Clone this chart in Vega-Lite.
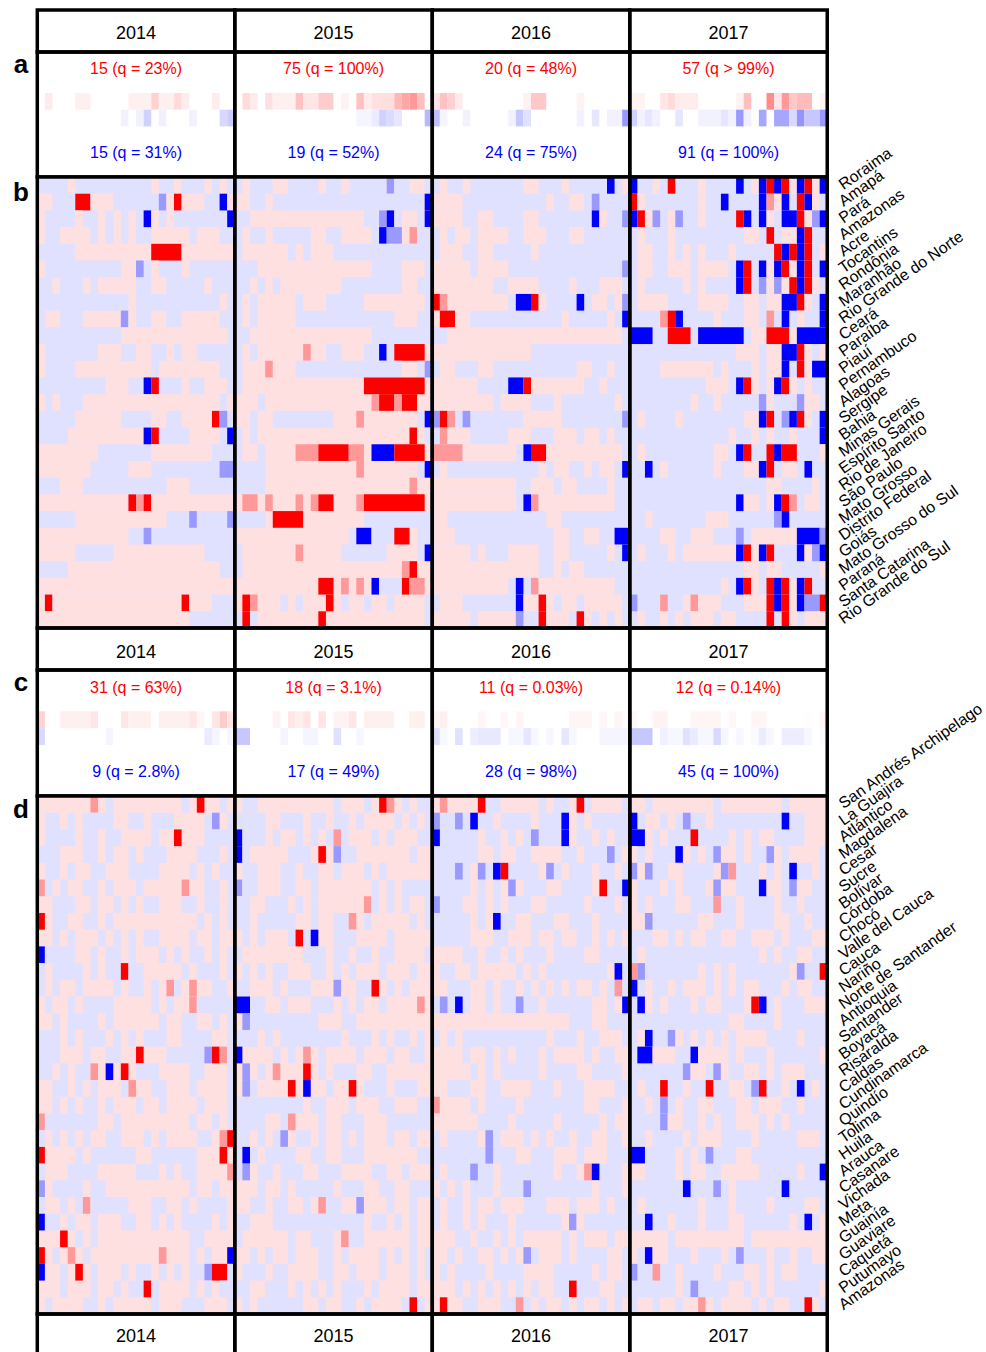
{"$schema":"https://vega.github.io/schema/vega-lite/v6.json","padding":{"left":0,"top":8,"right":0,"bottom":0},"spacing":0,"bounds":"flush","config":{"view":{"stroke":null},"font":"Liberation Sans","text":{"font":"Liberation Sans"}},
"datasets":{"frame":[{"x":0,"e":26,"t":"2014","c":13},{"x":26,"e":52,"t":"2015","c":39},{"x":52,"e":78,"t":"2016","c":65},{"x":78,"e":104,"t":"2017","c":91}],
"brazil":[{"r":0,"n":"Roraima"},{"r":1,"n":"Amapá"},{"r":2,"n":"Pará"},{"r":3,"n":"Amazonas"},{"r":4,"n":"Acre"},{"r":5,"n":"Tocantins"},{"r":6,"n":"Rondônia"},{"r":7,"n":"Maranhão"},{"r":8,"n":"Rio Grande do Norte"},{"r":9,"n":"Ceará"},{"r":10,"n":"Paraíba"},{"r":11,"n":"Piauí"},{"r":12,"n":"Pernambuco"},{"r":13,"n":"Alagoas"},{"r":14,"n":"Sergipe"},{"r":15,"n":"Bahia"},{"r":16,"n":"Minas Gerais"},{"r":17,"n":"Espírito Santo"},{"r":18,"n":"Rio de Janeiro"},{"r":19,"n":"São Paulo"},{"r":20,"n":"Mato Grosso"},{"r":21,"n":"Distrito Federal"},{"r":22,"n":"Goiás"},{"r":23,"n":"Mato Grosso do Sul"},{"r":24,"n":"Paraná"},{"r":25,"n":"Santa Catarina"},{"r":26,"n":"Rio Grande do Sul"}],
"colombia":[{"r":0,"n":"San Andrés Archipelago"},{"r":1,"n":"La Guajira"},{"r":2,"n":"Atlántico"},{"r":3,"n":"Magdalena"},{"r":4,"n":"Cesar"},{"r":5,"n":"Sucre"},{"r":6,"n":"Bolívar"},{"r":7,"n":"Córdoba"},{"r":8,"n":"Chocó"},{"r":9,"n":"Valle del Cauca"},{"r":10,"n":"Cauca"},{"r":11,"n":"Nariño"},{"r":12,"n":"Norte de Santander"},{"r":13,"n":"Antioquia"},{"r":14,"n":"Santander"},{"r":15,"n":"Boyacá"},{"r":16,"n":"Risaralda"},{"r":17,"n":"Caldas"},{"r":18,"n":"Cundinamarca"},{"r":19,"n":"Quindío"},{"r":20,"n":"Tolima"},{"r":21,"n":"Huila"},{"r":22,"n":"Arauca"},{"r":23,"n":"Casanare"},{"r":24,"n":"Vichada"},{"r":25,"n":"Meta"},{"r":26,"n":"Guainía"},{"r":27,"n":"Guaviare"},{"r":28,"n":"Caquetá"},{"r":29,"n":"Putumayo"},{"r":30,"n":"Amazonas"}],
"statsA":[{"r":0,"c":13,"t":"15 (q = 23%)","k":"#ff0000"},{"r":0,"c":39,"t":"75 (q = 100%)","k":"#ff0000"},{"r":0,"c":65,"t":"20 (q = 48%)","k":"#ff0000"},{"r":0,"c":91,"t":"57 (q > 99%)","k":"#ff0000"},{"r":5,"c":13,"t":"15 (q = 31%)","k":"#0000ff"},{"r":5,"c":39,"t":"19 (q = 52%)","k":"#0000ff"},{"r":5,"c":65,"t":"24 (q = 75%)","k":"#0000ff"},{"r":5,"c":91,"t":"91 (q = 100%)","k":"#0000ff"}],
"statsC":[{"r":0,"c":13,"t":"31 (q = 63%)","k":"#ff0000"},{"r":0,"c":39,"t":"18 (q = 3.1%)","k":"#ff0000"},{"r":0,"c":65,"t":"11 (q = 0.03%)","k":"#ff0000"},{"r":0,"c":91,"t":"12 (q = 0.14%)","k":"#ff0000"},{"r":5,"c":13,"t":"9 (q = 2.8%)","k":"#0000ff"},{"r":5,"c":39,"t":"17 (q = 49%)","k":"#0000ff"},{"r":5,"c":65,"t":"28 (q = 98%)","k":"#0000ff"},{"r":5,"c":91,"t":"45 (q = 100%)","k":"#0000ff"}],
"baseB":[{"x":0,"e":26,"v":-12},{"x":26,"e":52,"v":12},{"x":52,"e":78,"v":-12},{"x":78,"e":104,"v":-12}],
"baseD":[{"x":0,"e":26,"v":12},{"x":26,"e":52,"v":12},{"x":52,"e":78,"v":-12},{"x":78,"e":104,"v":-12}],
"panelA":[{"r":2,"x":1,"e":2,"v":8},{"r":2,"x":5,"e":7,"v":6},{"r":2,"x":12,"e":15,"v":6},{"r":2,"x":15,"e":16,"v":18},{"r":2,"x":16,"e":18,"v":6},{"r":2,"x":18,"e":19,"v":14},{"r":2,"x":19,"e":20,"v":7},{"r":2,"x":23,"e":24,"v":7},{"r":3,"x":11,"e":12,"v":-5},{"r":3,"x":13,"e":14,"v":-5},{"r":3,"x":14,"e":15,"v":-18},{"r":3,"x":16,"e":17,"v":-6},{"r":3,"x":20,"e":21,"v":-5},{"r":3,"x":24,"e":25,"v":-15},{"r":3,"x":25,"e":26,"v":-20},
{"r":2,"x":27,"e":28,"v":14},{"r":2,"x":28,"e":29,"v":8},{"r":2,"x":30,"e":31,"v":12},{"r":2,"x":31,"e":34,"v":6},{"r":2,"x":34,"e":35,"v":24},{"r":2,"x":35,"e":37,"v":10},{"r":2,"x":37,"e":39,"v":20},{"r":2,"x":40,"e":41,"v":5},{"r":2,"x":42,"e":43,"v":24},{"r":2,"x":43,"e":44,"v":8},{"r":2,"x":44,"e":45,"v":12},{"r":2,"x":45,"e":47,"v":13},{"r":2,"x":47,"e":48,"v":28},{"r":2,"x":48,"e":49,"v":35},{"r":2,"x":49,"e":50,"v":40},{"r":2,"x":50,"e":51,"v":25},{"r":3,"x":42,"e":44,"v":-4},{"r":3,"x":44,"e":45,"v":-8},{"r":3,"x":45,"e":46,"v":-18},{"r":3,"x":46,"e":47,"v":-14},{"r":3,"x":47,"e":48,"v":-10},{"r":3,"x":51,"e":52,"v":-28},
{"r":2,"x":52,"e":53,"v":10},{"r":2,"x":53,"e":54,"v":24},{"r":2,"x":54,"e":55,"v":18},{"r":2,"x":55,"e":56,"v":8},{"r":2,"x":64,"e":65,"v":5},{"r":2,"x":65,"e":67,"v":22},{"r":2,"x":71,"e":72,"v":5},{"r":3,"x":52,"e":53,"v":-25},{"r":3,"x":53,"e":54,"v":-4},{"r":3,"x":56,"e":57,"v":-5},{"r":3,"x":62,"e":63,"v":-5},{"r":3,"x":63,"e":64,"v":-22},{"r":3,"x":64,"e":65,"v":-12},{"r":3,"x":71,"e":72,"v":-5},{"r":3,"x":73,"e":74,"v":-10},{"r":3,"x":75,"e":77,"v":-5},{"r":3,"x":77,"e":78,"v":-40},
{"r":2,"x":78,"e":80,"v":5},{"r":2,"x":82,"e":83,"v":10},{"r":2,"x":83,"e":84,"v":14},{"r":2,"x":84,"e":87,"v":7},{"r":2,"x":92,"e":93,"v":5},{"r":2,"x":93,"e":94,"v":25},{"r":2,"x":96,"e":97,"v":45},{"r":2,"x":97,"e":98,"v":10},{"r":2,"x":98,"e":99,"v":40},{"r":2,"x":99,"e":100,"v":22},{"r":2,"x":100,"e":102,"v":27},{"r":2,"x":103,"e":104,"v":5},{"r":3,"x":78,"e":79,"v":-18},{"r":3,"x":79,"e":80,"v":-5},{"r":3,"x":80,"e":81,"v":-10},{"r":3,"x":81,"e":82,"v":-5},{"r":3,"x":84,"e":85,"v":-10},{"r":3,"x":87,"e":90,"v":-5},{"r":3,"x":90,"e":91,"v":-10},{"r":3,"x":91,"e":92,"v":-5},{"r":3,"x":92,"e":93,"v":-40},{"r":3,"x":93,"e":94,"v":-6},{"r":3,"x":95,"e":96,"v":-35},{"r":3,"x":97,"e":99,"v":-35},{"r":3,"x":99,"e":100,"v":-15},{"r":3,"x":100,"e":101,"v":-42},{"r":3,"x":101,"e":103,"v":-22},{"r":3,"x":103,"e":104,"v":-40}],
"panelC":[{"r":2,"x":0,"e":1,"v":18},{"r":2,"x":3,"e":7,"v":6},{"r":2,"x":7,"e":8,"v":10},{"r":2,"x":11,"e":12,"v":10},{"r":2,"x":12,"e":15,"v":6},{"r":2,"x":16,"e":20,"v":6},{"r":2,"x":20,"e":21,"v":10},{"r":2,"x":21,"e":22,"v":3},{"r":2,"x":23,"e":24,"v":10},{"r":2,"x":24,"e":25,"v":20},{"r":2,"x":25,"e":26,"v":10},{"r":3,"x":0,"e":1,"v":-15},{"r":3,"x":9,"e":10,"v":-4},{"r":3,"x":22,"e":23,"v":-8},{"r":3,"x":23,"e":24,"v":-4},{"r":3,"x":25,"e":26,"v":-3},
{"r":2,"x":31,"e":32,"v":5},{"r":2,"x":33,"e":34,"v":10},{"r":2,"x":34,"e":35,"v":6},{"r":2,"x":35,"e":36,"v":10},{"r":2,"x":37,"e":38,"v":10},{"r":2,"x":39,"e":41,"v":5},{"r":2,"x":41,"e":42,"v":10},{"r":2,"x":43,"e":47,"v":6},{"r":2,"x":49,"e":51,"v":6},{"r":3,"x":26,"e":28,"v":-22},{"r":3,"x":32,"e":33,"v":-4},{"r":3,"x":35,"e":37,"v":-4},{"r":3,"x":39,"e":40,"v":-12},{"r":3,"x":42,"e":43,"v":-3},
{"r":2,"x":52,"e":53,"v":4},{"r":2,"x":53,"e":54,"v":6},{"r":2,"x":58,"e":59,"v":4},{"r":2,"x":61,"e":62,"v":3},{"r":2,"x":63,"e":64,"v":4},{"r":2,"x":70,"e":73,"v":4},{"r":2,"x":74,"e":75,"v":3},{"r":2,"x":76,"e":77,"v":4},{"r":2,"x":77,"e":78,"v":1},{"r":3,"x":52,"e":53,"v":-12},{"r":3,"x":53,"e":54,"v":-3},{"r":3,"x":55,"e":56,"v":-12},{"r":3,"x":57,"e":58,"v":-7},{"r":3,"x":58,"e":61,"v":-9},{"r":3,"x":62,"e":64,"v":-3},{"r":3,"x":64,"e":65,"v":-10},{"r":3,"x":65,"e":66,"v":-3},{"r":3,"x":67,"e":68,"v":-3},{"r":3,"x":69,"e":70,"v":-10},{"r":3,"x":70,"e":71,"v":-3},{"r":3,"x":74,"e":78,"v":-4},
{"r":2,"x":78,"e":79,"v":3},{"r":2,"x":81,"e":83,"v":5},{"r":2,"x":86,"e":90,"v":4},{"r":2,"x":91,"e":92,"v":3},{"r":2,"x":94,"e":96,"v":4},{"r":2,"x":101,"e":102,"v":1},{"r":2,"x":103,"e":104,"v":3},{"r":3,"x":78,"e":81,"v":-22},{"r":3,"x":82,"e":83,"v":-6},{"r":3,"x":83,"e":85,"v":-3},{"r":3,"x":85,"e":86,"v":-12},{"r":3,"x":86,"e":87,"v":-8},{"r":3,"x":87,"e":89,"v":-3},{"r":3,"x":89,"e":90,"v":-15},{"r":3,"x":90,"e":91,"v":-3},{"r":3,"x":92,"e":93,"v":-3},{"r":3,"x":94,"e":95,"v":-2},{"r":3,"x":95,"e":96,"v":-8},{"r":3,"x":96,"e":97,"v":-3},{"r":3,"x":98,"e":101,"v":-7},{"r":3,"x":101,"e":102,"v":-3},{"r":3,"x":103,"e":104,"v":-2}],
"panelB":[
{"r":0,"x":4,"e":5,"v":12},{"r":0,"x":15,"e":16,"v":12},{"r":0,"x":18,"e":19,"v":12},{"r":0,"x":22,"e":23,"v":12},{"r":0,"x":24,"e":25,"v":12},
{"r":1,"x":0,"e":2,"v":12},{"r":1,"x":5,"e":7,"v":100},{"r":1,"x":7,"e":10,"v":12},{"r":1,"x":16,"e":17,"v":-40},{"r":1,"x":17,"e":18,"v":12},{"r":1,"x":18,"e":19,"v":100},{"r":1,"x":19,"e":22,"v":12},{"r":1,"x":24,"e":25,"v":-100},{"r":1,"x":25,"e":26,"v":12},
{"r":2,"x":0,"e":1,"v":12},{"r":2,"x":5,"e":6,"v":12},{"r":2,"x":8,"e":9,"v":12},{"r":2,"x":10,"e":11,"v":12},{"r":2,"x":12,"e":13,"v":12},{"r":2,"x":14,"e":15,"v":-100},{"r":2,"x":15,"e":16,"v":12},{"r":2,"x":17,"e":18,"v":12},{"r":2,"x":25,"e":26,"v":-100},
{"r":3,"x":0,"e":1,"v":12},{"r":3,"x":3,"e":7,"v":12},{"r":3,"x":8,"e":9,"v":12},{"r":3,"x":10,"e":11,"v":12},{"r":3,"x":12,"e":13,"v":12},{"r":3,"x":15,"e":20,"v":12},{"r":3,"x":21,"e":24,"v":12},
{"r":4,"x":5,"e":15,"v":12},{"r":4,"x":15,"e":19,"v":100},{"r":4,"x":19,"e":26,"v":12},
{"r":5,"x":0,"e":1,"v":12},{"r":5,"x":11,"e":12,"v":12},{"r":5,"x":12,"e":13,"v":12},{"r":5,"x":13,"e":14,"v":-40},{"r":5,"x":15,"e":16,"v":12},{"r":5,"x":19,"e":20,"v":12},
{"r":6,"x":2,"e":3,"v":12},{"r":6,"x":6,"e":7,"v":12},{"r":6,"x":8,"e":13,"v":12},{"r":6,"x":15,"e":17,"v":12},{"r":6,"x":22,"e":23,"v":12},
{"r":7,"x":12,"e":13,"v":12},{"r":7,"x":24,"e":25,"v":12},
{"r":8,"x":1,"e":3,"v":12},{"r":8,"x":6,"e":11,"v":12},{"r":8,"x":11,"e":12,"v":-40},{"r":8,"x":12,"e":13,"v":12},{"r":8,"x":15,"e":17,"v":12},{"r":8,"x":19,"e":24,"v":12},
{"r":9,"x":11,"e":25,"v":12},
{"r":10,"x":0,"e":1,"v":12},{"r":10,"x":8,"e":11,"v":12},{"r":10,"x":13,"e":15,"v":12},{"r":10,"x":17,"e":18,"v":12},{"r":10,"x":19,"e":21,"v":12},
{"r":11,"x":0,"e":1,"v":12},{"r":11,"x":5,"e":15,"v":12},{"r":11,"x":16,"e":24,"v":12},
{"r":12,"x":9,"e":12,"v":12},{"r":12,"x":14,"e":15,"v":-100},{"r":12,"x":15,"e":16,"v":100},{"r":12,"x":19,"e":20,"v":12},{"r":12,"x":22,"e":25,"v":12},
{"r":13,"x":0,"e":1,"v":12},{"r":13,"x":2,"e":3,"v":12},{"r":13,"x":6,"e":24,"v":12},{"r":13,"x":25,"e":26,"v":12},
{"r":14,"x":5,"e":11,"v":12},{"r":14,"x":15,"e":17,"v":12},{"r":14,"x":19,"e":23,"v":12},{"r":14,"x":23,"e":24,"v":100},{"r":14,"x":24,"e":25,"v":-40},
{"r":15,"x":4,"e":14,"v":12},{"r":15,"x":14,"e":15,"v":-100},{"r":15,"x":15,"e":16,"v":100},{"r":15,"x":20,"e":24,"v":12},{"r":15,"x":25,"e":26,"v":-100},
{"r":16,"x":0,"e":8,"v":12},{"r":16,"x":15,"e":23,"v":12},
{"r":17,"x":0,"e":7,"v":12},{"r":17,"x":12,"e":15,"v":12},{"r":17,"x":24,"e":26,"v":-40},
{"r":18,"x":3,"e":6,"v":12},{"r":18,"x":17,"e":20,"v":12},
{"r":19,"x":0,"e":12,"v":12},{"r":19,"x":12,"e":13,"v":100},{"r":19,"x":13,"e":14,"v":40},{"r":19,"x":14,"e":15,"v":100},{"r":19,"x":15,"e":26,"v":12},
{"r":20,"x":5,"e":17,"v":12},{"r":20,"x":20,"e":21,"v":-40},{"r":20,"x":25,"e":26,"v":-40},
{"r":21,"x":0,"e":12,"v":12},{"r":21,"x":14,"e":15,"v":-40},
{"r":22,"x":0,"e":5,"v":12},{"r":22,"x":10,"e":22,"v":12},
{"r":23,"x":4,"e":24,"v":12},
{"r":24,"x":0,"e":26,"v":12},
{"r":25,"x":0,"e":1,"v":12},{"r":25,"x":1,"e":2,"v":100},{"r":25,"x":2,"e":19,"v":12},{"r":25,"x":19,"e":20,"v":100},{"r":25,"x":20,"e":23,"v":12},
{"r":26,"x":0,"e":20,"v":12},

{"r":0,"x":26,"e":27,"v":-12},{"r":0,"x":28,"e":31,"v":-12},{"r":0,"x":33,"e":37,"v":-12},{"r":0,"x":38,"e":40,"v":-12},{"r":0,"x":41,"e":46,"v":-12},{"r":0,"x":46,"e":47,"v":-40},{"r":0,"x":47,"e":49,"v":-12},{"r":0,"x":51,"e":52,"v":-12},
{"r":1,"x":28,"e":30,"v":-12},{"r":1,"x":31,"e":51,"v":-12},{"r":1,"x":51,"e":52,"v":-100},
{"r":2,"x":26,"e":28,"v":-12},{"r":2,"x":43,"e":45,"v":-12},{"r":2,"x":45,"e":46,"v":-40},{"r":2,"x":46,"e":47,"v":-100},{"r":2,"x":47,"e":48,"v":-12},{"r":2,"x":50,"e":51,"v":-12},{"r":2,"x":51,"e":52,"v":-100},
{"r":3,"x":26,"e":27,"v":-12},{"r":3,"x":28,"e":30,"v":-12},{"r":3,"x":31,"e":36,"v":-12},{"r":3,"x":38,"e":40,"v":-12},{"r":3,"x":44,"e":45,"v":-12},{"r":3,"x":45,"e":46,"v":-100},{"r":3,"x":46,"e":48,"v":-40},{"r":3,"x":49,"e":50,"v":40},{"r":3,"x":50,"e":52,"v":-12},
{"r":4,"x":26,"e":27,"v":-12},{"r":4,"x":33,"e":34,"v":-12},{"r":4,"x":35,"e":36,"v":-12},{"r":4,"x":39,"e":52,"v":-12},
{"r":5,"x":26,"e":29,"v":-12},{"r":5,"x":44,"e":48,"v":-12},{"r":5,"x":51,"e":52,"v":-12},
{"r":6,"x":26,"e":28,"v":-12},{"r":6,"x":29,"e":30,"v":-12},{"r":6,"x":31,"e":32,"v":-12},{"r":6,"x":40,"e":48,"v":-12},{"r":6,"x":50,"e":52,"v":-12},
{"r":7,"x":26,"e":27,"v":-12},{"r":7,"x":28,"e":29,"v":-12},{"r":7,"x":34,"e":35,"v":-12},{"r":7,"x":38,"e":43,"v":-12},{"r":7,"x":51,"e":52,"v":-12},
{"r":8,"x":26,"e":27,"v":-12},{"r":8,"x":28,"e":29,"v":-12},{"r":8,"x":34,"e":47,"v":-12},{"r":8,"x":50,"e":52,"v":-12},
{"r":9,"x":26,"e":28,"v":-12},{"r":9,"x":44,"e":52,"v":-12},
{"r":10,"x":26,"e":27,"v":-12},{"r":10,"x":28,"e":29,"v":-12},{"r":10,"x":35,"e":36,"v":40},{"r":10,"x":38,"e":40,"v":-12},{"r":10,"x":43,"e":45,"v":-12},{"r":10,"x":45,"e":46,"v":-100},{"r":10,"x":46,"e":47,"v":-12},{"r":10,"x":47,"e":51,"v":100},
{"r":11,"x":26,"e":27,"v":-12},{"r":11,"x":30,"e":31,"v":40},{"r":11,"x":34,"e":48,"v":-12},{"r":11,"x":50,"e":51,"v":-12},{"r":11,"x":51,"e":52,"v":-40},
{"r":12,"x":26,"e":27,"v":-12},{"r":12,"x":43,"e":51,"v":100},
{"r":13,"x":29,"e":30,"v":-12},{"r":13,"x":44,"e":45,"v":40},{"r":13,"x":45,"e":47,"v":100},{"r":13,"x":47,"e":48,"v":40},{"r":13,"x":48,"e":50,"v":100},
{"r":14,"x":28,"e":29,"v":-12},{"r":14,"x":31,"e":39,"v":-12},{"r":14,"x":42,"e":43,"v":40},{"r":14,"x":50,"e":51,"v":-12},{"r":14,"x":51,"e":52,"v":-100},
{"r":15,"x":26,"e":27,"v":-12},{"r":15,"x":28,"e":29,"v":-12},{"r":15,"x":49,"e":50,"v":100},{"r":15,"x":51,"e":52,"v":-12},
{"r":16,"x":26,"e":27,"v":-12},{"r":16,"x":29,"e":30,"v":-12},{"r":16,"x":34,"e":37,"v":40},{"r":16,"x":37,"e":41,"v":100},{"r":16,"x":41,"e":43,"v":40},{"r":16,"x":44,"e":47,"v":-100},{"r":16,"x":47,"e":51,"v":100},
{"r":17,"x":26,"e":30,"v":-12},{"r":17,"x":42,"e":43,"v":40},{"r":17,"x":50,"e":51,"v":-12},{"r":17,"x":51,"e":52,"v":-100},
{"r":18,"x":26,"e":30,"v":-12},{"r":18,"x":49,"e":50,"v":40},
{"r":19,"x":27,"e":29,"v":40},{"r":19,"x":30,"e":31,"v":40},{"r":19,"x":34,"e":35,"v":40},{"r":19,"x":36,"e":37,"v":40},{"r":19,"x":37,"e":39,"v":100},{"r":19,"x":42,"e":43,"v":40},{"r":19,"x":43,"e":51,"v":100},
{"r":20,"x":26,"e":30,"v":-12},{"r":20,"x":31,"e":35,"v":100},{"r":20,"x":43,"e":52,"v":-12},
{"r":21,"x":41,"e":42,"v":-12},{"r":21,"x":42,"e":44,"v":-100},{"r":21,"x":44,"e":47,"v":-12},{"r":21,"x":47,"e":49,"v":100},{"r":21,"x":50,"e":52,"v":-12},
{"r":22,"x":26,"e":27,"v":-12},{"r":22,"x":34,"e":35,"v":40},{"r":22,"x":40,"e":46,"v":-12},{"r":22,"x":50,"e":51,"v":-12},{"r":22,"x":51,"e":52,"v":-100},
{"r":23,"x":26,"e":27,"v":-12},{"r":23,"x":48,"e":49,"v":40},{"r":23,"x":49,"e":50,"v":100},
{"r":24,"x":37,"e":39,"v":100},{"r":24,"x":40,"e":41,"v":40},{"r":24,"x":42,"e":43,"v":40},{"r":24,"x":44,"e":45,"v":-100},{"r":24,"x":45,"e":48,"v":-12},{"r":24,"x":48,"e":49,"v":100},{"r":24,"x":49,"e":51,"v":40},
{"r":25,"x":27,"e":28,"v":100},{"r":25,"x":28,"e":29,"v":40},{"r":25,"x":32,"e":33,"v":-12},{"r":25,"x":34,"e":35,"v":-12},{"r":25,"x":38,"e":39,"v":100},{"r":25,"x":40,"e":41,"v":-12},{"r":25,"x":43,"e":44,"v":-12},{"r":25,"x":46,"e":47,"v":-12},{"r":25,"x":51,"e":52,"v":-12},
{"r":26,"x":26,"e":27,"v":-12},{"r":26,"x":27,"e":28,"v":100},{"r":26,"x":28,"e":29,"v":-12},{"r":26,"x":37,"e":38,"v":100},{"r":26,"x":51,"e":52,"v":-12},

{"r":0,"x":53,"e":54,"v":12},{"r":0,"x":56,"e":57,"v":12},{"r":0,"x":64,"e":66,"v":12},{"r":0,"x":69,"e":70,"v":12},{"r":0,"x":75,"e":76,"v":-100},{"r":0,"x":77,"e":78,"v":12},
{"r":1,"x":52,"e":56,"v":12},{"r":1,"x":67,"e":68,"v":12},{"r":1,"x":70,"e":72,"v":12},{"r":1,"x":73,"e":74,"v":-40},
{"r":2,"x":52,"e":56,"v":12},{"r":2,"x":58,"e":60,"v":12},{"r":2,"x":64,"e":66,"v":12},{"r":2,"x":73,"e":74,"v":-100},{"r":2,"x":74,"e":75,"v":12},{"r":2,"x":77,"e":78,"v":-40},
{"r":3,"x":53,"e":54,"v":12},{"r":3,"x":55,"e":57,"v":12},{"r":3,"x":58,"e":62,"v":12},{"r":3,"x":64,"e":67,"v":12},{"r":3,"x":70,"e":72,"v":12},
{"r":4,"x":53,"e":56,"v":12},{"r":4,"x":58,"e":60,"v":12},{"r":4,"x":65,"e":66,"v":12},
{"r":5,"x":52,"e":57,"v":12},{"r":5,"x":58,"e":62,"v":12},{"r":5,"x":77,"e":78,"v":-40},
{"r":6,"x":52,"e":60,"v":12},{"r":6,"x":62,"e":66,"v":12},{"r":6,"x":70,"e":71,"v":12},{"r":6,"x":74,"e":77,"v":12},
{"r":7,"x":52,"e":53,"v":100},{"r":7,"x":53,"e":54,"v":40},{"r":7,"x":54,"e":62,"v":12},{"r":7,"x":63,"e":65,"v":-100},{"r":7,"x":65,"e":66,"v":100},{"r":7,"x":66,"e":67,"v":12},{"r":7,"x":71,"e":72,"v":-100},{"r":7,"x":73,"e":75,"v":12},{"r":7,"x":76,"e":77,"v":12},{"r":7,"x":77,"e":78,"v":-40},
{"r":8,"x":52,"e":53,"v":12},{"r":8,"x":53,"e":55,"v":100},{"r":8,"x":55,"e":57,"v":12},{"r":8,"x":69,"e":70,"v":12},{"r":8,"x":75,"e":76,"v":12},{"r":8,"x":77,"e":78,"v":-100},
{"r":9,"x":54,"e":77,"v":12},
{"r":10,"x":52,"e":65,"v":12},
{"r":11,"x":53,"e":55,"v":12},{"r":11,"x":58,"e":60,"v":12},{"r":11,"x":71,"e":73,"v":12},{"r":11,"x":75,"e":76,"v":12},
{"r":12,"x":52,"e":58,"v":12},{"r":12,"x":62,"e":64,"v":-100},{"r":12,"x":64,"e":65,"v":100},{"r":12,"x":65,"e":72,"v":12},{"r":12,"x":74,"e":75,"v":12},
{"r":13,"x":52,"e":60,"v":12},{"r":13,"x":61,"e":65,"v":12},{"r":13,"x":68,"e":69,"v":12},{"r":13,"x":76,"e":77,"v":12},
{"r":14,"x":52,"e":53,"v":-40},{"r":14,"x":53,"e":54,"v":100},{"r":14,"x":54,"e":55,"v":40},{"r":14,"x":56,"e":57,"v":-40},{"r":14,"x":64,"e":69,"v":12},{"r":14,"x":77,"e":78,"v":-40},
{"r":15,"x":53,"e":54,"v":40},{"r":15,"x":54,"e":57,"v":12},{"r":15,"x":62,"e":65,"v":12},{"r":15,"x":68,"e":71,"v":12},{"r":15,"x":72,"e":74,"v":12},{"r":15,"x":75,"e":76,"v":12},
{"r":16,"x":52,"e":56,"v":40},{"r":16,"x":56,"e":63,"v":12},{"r":16,"x":64,"e":65,"v":-100},{"r":16,"x":65,"e":67,"v":100},{"r":16,"x":67,"e":77,"v":12},
{"r":17,"x":53,"e":54,"v":12},{"r":17,"x":66,"e":67,"v":12},{"r":17,"x":68,"e":70,"v":12},{"r":17,"x":72,"e":73,"v":12},{"r":17,"x":74,"e":76,"v":12},{"r":17,"x":77,"e":78,"v":-100},
{"r":18,"x":52,"e":63,"v":12},{"r":18,"x":65,"e":68,"v":12},{"r":18,"x":69,"e":71,"v":12},{"r":18,"x":75,"e":76,"v":12},
{"r":19,"x":52,"e":63,"v":12},{"r":19,"x":64,"e":65,"v":-100},{"r":19,"x":65,"e":66,"v":40},{"r":19,"x":66,"e":76,"v":12},
{"r":20,"x":52,"e":54,"v":12},{"r":20,"x":67,"e":69,"v":12},
{"r":21,"x":52,"e":55,"v":12},{"r":21,"x":68,"e":70,"v":12},{"r":21,"x":72,"e":74,"v":12},{"r":21,"x":76,"e":78,"v":-100},
{"r":22,"x":52,"e":57,"v":12},{"r":22,"x":58,"e":59,"v":12},{"r":22,"x":62,"e":66,"v":12},{"r":22,"x":68,"e":70,"v":12},{"r":22,"x":75,"e":76,"v":12},{"r":22,"x":77,"e":78,"v":-100},
{"r":23,"x":52,"e":66,"v":12},{"r":23,"x":68,"e":69,"v":12},{"r":23,"x":70,"e":72,"v":12},
{"r":24,"x":52,"e":62,"v":12},{"r":24,"x":63,"e":64,"v":-100},{"r":24,"x":65,"e":66,"v":40},{"r":24,"x":66,"e":76,"v":12},
{"r":25,"x":53,"e":56,"v":12},{"r":25,"x":63,"e":64,"v":-100},{"r":25,"x":64,"e":66,"v":12},{"r":25,"x":66,"e":67,"v":100},{"r":25,"x":67,"e":68,"v":12},{"r":25,"x":69,"e":71,"v":12},{"r":25,"x":72,"e":77,"v":12},
{"r":26,"x":52,"e":57,"v":12},{"r":26,"x":58,"e":63,"v":12},{"r":26,"x":63,"e":64,"v":-40},{"r":26,"x":66,"e":67,"v":100},{"r":26,"x":67,"e":70,"v":12},{"r":26,"x":71,"e":72,"v":100},{"r":26,"x":72,"e":73,"v":12},{"r":26,"x":74,"e":75,"v":12},{"r":26,"x":76,"e":77,"v":12},

{"r":0,"x":78,"e":79,"v":-100},{"r":0,"x":81,"e":82,"v":12},{"r":0,"x":83,"e":84,"v":100},{"r":0,"x":87,"e":88,"v":12},{"r":0,"x":92,"e":93,"v":-100},{"r":0,"x":94,"e":95,"v":12},{"r":0,"x":95,"e":96,"v":-100},{"r":0,"x":96,"e":97,"v":100},{"r":0,"x":97,"e":98,"v":-100},{"r":0,"x":98,"e":99,"v":100},{"r":0,"x":99,"e":100,"v":12},{"r":0,"x":100,"e":101,"v":-100},{"r":0,"x":101,"e":102,"v":100},{"r":0,"x":102,"e":103,"v":12},{"r":0,"x":103,"e":104,"v":-100},
{"r":1,"x":78,"e":79,"v":100},{"r":1,"x":79,"e":80,"v":12},{"r":1,"x":87,"e":88,"v":12},{"r":1,"x":90,"e":91,"v":-100},{"r":1,"x":95,"e":96,"v":-100},{"r":1,"x":96,"e":97,"v":40},{"r":1,"x":97,"e":98,"v":12},{"r":1,"x":98,"e":99,"v":-100},{"r":1,"x":100,"e":101,"v":100},{"r":1,"x":101,"e":102,"v":-100},{"r":1,"x":102,"e":103,"v":12},
{"r":2,"x":78,"e":79,"v":-100},{"r":2,"x":79,"e":80,"v":100},{"r":2,"x":80,"e":81,"v":12},{"r":2,"x":81,"e":82,"v":-40},{"r":2,"x":83,"e":84,"v":12},{"r":2,"x":84,"e":85,"v":-40},{"r":2,"x":87,"e":88,"v":12},{"r":2,"x":92,"e":93,"v":100},{"r":2,"x":93,"e":94,"v":-100},{"r":2,"x":95,"e":96,"v":-100},{"r":2,"x":96,"e":97,"v":12},{"r":2,"x":98,"e":100,"v":-100},{"r":2,"x":100,"e":101,"v":100},{"r":2,"x":101,"e":102,"v":12},{"r":2,"x":102,"e":103,"v":-40},{"r":2,"x":103,"e":104,"v":-100},
{"r":3,"x":79,"e":80,"v":12},{"r":3,"x":83,"e":84,"v":12},{"r":3,"x":93,"e":95,"v":12},{"r":3,"x":96,"e":97,"v":100},{"r":3,"x":98,"e":100,"v":12},{"r":3,"x":100,"e":101,"v":-100},{"r":3,"x":101,"e":102,"v":100},
{"r":4,"x":79,"e":81,"v":12},{"r":4,"x":83,"e":84,"v":12},{"r":4,"x":85,"e":86,"v":12},{"r":4,"x":87,"e":88,"v":12},{"r":4,"x":91,"e":92,"v":12},{"r":4,"x":97,"e":98,"v":100},{"r":4,"x":98,"e":99,"v":-100},{"r":4,"x":99,"e":100,"v":100},{"r":4,"x":100,"e":101,"v":-100},{"r":4,"x":101,"e":102,"v":100},{"r":4,"x":103,"e":104,"v":12},
{"r":5,"x":79,"e":81,"v":12},{"r":5,"x":83,"e":86,"v":12},{"r":5,"x":87,"e":91,"v":12},{"r":5,"x":92,"e":93,"v":-100},{"r":5,"x":93,"e":94,"v":100},{"r":5,"x":95,"e":96,"v":-100},{"r":5,"x":96,"e":97,"v":12},{"r":5,"x":97,"e":98,"v":-100},{"r":5,"x":98,"e":99,"v":100},{"r":5,"x":99,"e":100,"v":12},{"r":5,"x":100,"e":101,"v":-100},{"r":5,"x":101,"e":102,"v":100},{"r":5,"x":103,"e":104,"v":-100},
{"r":6,"x":79,"e":80,"v":12},{"r":6,"x":85,"e":86,"v":12},{"r":6,"x":87,"e":88,"v":12},{"r":6,"x":92,"e":93,"v":-100},{"r":6,"x":93,"e":94,"v":100},{"r":6,"x":95,"e":96,"v":-40},{"r":6,"x":96,"e":97,"v":12},{"r":6,"x":97,"e":98,"v":-40},{"r":6,"x":98,"e":99,"v":12},{"r":6,"x":99,"e":100,"v":100},{"r":6,"x":100,"e":101,"v":-100},{"r":6,"x":101,"e":102,"v":100},{"r":6,"x":102,"e":103,"v":12},
{"r":7,"x":79,"e":83,"v":12},{"r":7,"x":87,"e":91,"v":12},{"r":7,"x":93,"e":95,"v":12},{"r":7,"x":96,"e":98,"v":12},{"r":7,"x":98,"e":100,"v":-100},{"r":7,"x":100,"e":101,"v":100},{"r":7,"x":101,"e":102,"v":12},{"r":7,"x":103,"e":104,"v":-100},
{"r":8,"x":82,"e":83,"v":40},{"r":8,"x":83,"e":84,"v":100},{"r":8,"x":84,"e":85,"v":-100},{"r":8,"x":89,"e":90,"v":12},{"r":8,"x":93,"e":95,"v":12},{"r":8,"x":96,"e":97,"v":40},{"r":8,"x":98,"e":99,"v":-100},{"r":8,"x":100,"e":101,"v":12},{"r":8,"x":103,"e":104,"v":-100},
{"r":9,"x":78,"e":81,"v":-100},{"r":9,"x":83,"e":86,"v":100},{"r":9,"x":87,"e":93,"v":-100},{"r":9,"x":94,"e":96,"v":12},{"r":9,"x":96,"e":99,"v":100},{"r":9,"x":99,"e":100,"v":12},{"r":9,"x":100,"e":104,"v":-100},
{"r":10,"x":92,"e":95,"v":12},{"r":10,"x":96,"e":98,"v":12},{"r":10,"x":98,"e":100,"v":-100},{"r":10,"x":100,"e":101,"v":100},{"r":10,"x":101,"e":102,"v":12},{"r":10,"x":103,"e":104,"v":12},
{"r":11,"x":82,"e":89,"v":12},{"r":11,"x":90,"e":91,"v":12},{"r":11,"x":94,"e":95,"v":12},{"r":11,"x":96,"e":98,"v":12},{"r":11,"x":98,"e":99,"v":-100},{"r":11,"x":100,"e":101,"v":100},{"r":11,"x":101,"e":102,"v":12},{"r":11,"x":102,"e":104,"v":-100},
{"r":12,"x":88,"e":91,"v":12},{"r":12,"x":92,"e":93,"v":-100},{"r":12,"x":93,"e":94,"v":100},{"r":12,"x":94,"e":95,"v":12},{"r":12,"x":96,"e":97,"v":12},{"r":12,"x":97,"e":98,"v":-100},{"r":12,"x":98,"e":99,"v":100},{"r":12,"x":99,"e":100,"v":12},{"r":12,"x":101,"e":102,"v":12},
{"r":13,"x":86,"e":87,"v":12},{"r":13,"x":89,"e":90,"v":12},{"r":13,"x":95,"e":96,"v":-40},{"r":13,"x":96,"e":97,"v":12},{"r":13,"x":100,"e":101,"v":-40},{"r":13,"x":101,"e":103,"v":12},
{"r":14,"x":79,"e":80,"v":12},{"r":14,"x":84,"e":85,"v":12},{"r":14,"x":93,"e":95,"v":12},{"r":14,"x":95,"e":96,"v":-100},{"r":14,"x":96,"e":97,"v":100},{"r":14,"x":98,"e":99,"v":-40},{"r":14,"x":99,"e":100,"v":-100},{"r":14,"x":100,"e":101,"v":100},{"r":14,"x":101,"e":102,"v":12},{"r":14,"x":103,"e":104,"v":-100},
{"r":15,"x":91,"e":92,"v":12},{"r":15,"x":94,"e":95,"v":12},{"r":15,"x":96,"e":97,"v":12},{"r":15,"x":99,"e":100,"v":12},{"r":15,"x":103,"e":104,"v":-100},
{"r":16,"x":79,"e":80,"v":12},{"r":16,"x":89,"e":91,"v":12},{"r":16,"x":92,"e":93,"v":-100},{"r":16,"x":93,"e":94,"v":100},{"r":16,"x":96,"e":97,"v":100},{"r":16,"x":97,"e":98,"v":-100},{"r":16,"x":98,"e":100,"v":100},{"r":16,"x":103,"e":104,"v":12},
{"r":17,"x":80,"e":81,"v":-100},{"r":17,"x":82,"e":83,"v":12},{"r":17,"x":89,"e":90,"v":12},{"r":17,"x":93,"e":95,"v":12},{"r":17,"x":95,"e":96,"v":-100},{"r":17,"x":96,"e":97,"v":100},{"r":17,"x":98,"e":100,"v":12},{"r":17,"x":101,"e":102,"v":-100},
{"r":18,"x":96,"e":98,"v":12},{"r":18,"x":102,"e":103,"v":12},
{"r":19,"x":92,"e":93,"v":-100},{"r":19,"x":93,"e":95,"v":12},{"r":19,"x":96,"e":97,"v":12},{"r":19,"x":97,"e":98,"v":-100},{"r":19,"x":98,"e":99,"v":100},{"r":19,"x":99,"e":100,"v":40},{"r":19,"x":101,"e":103,"v":12},
{"r":20,"x":80,"e":81,"v":12},{"r":20,"x":88,"e":91,"v":12},{"r":20,"x":97,"e":98,"v":-40},{"r":20,"x":98,"e":99,"v":-100},
{"r":21,"x":82,"e":84,"v":12},{"r":21,"x":86,"e":89,"v":12},{"r":21,"x":92,"e":93,"v":-40},{"r":21,"x":94,"e":100,"v":12},{"r":21,"x":100,"e":103,"v":-100},{"r":21,"x":103,"e":104,"v":-40},
{"r":22,"x":79,"e":80,"v":12},{"r":22,"x":83,"e":84,"v":12},{"r":22,"x":85,"e":92,"v":12},{"r":22,"x":92,"e":93,"v":-100},{"r":22,"x":93,"e":94,"v":100},{"r":22,"x":94,"e":95,"v":12},{"r":22,"x":95,"e":96,"v":-100},{"r":22,"x":96,"e":97,"v":100},{"r":22,"x":100,"e":101,"v":-100},{"r":22,"x":101,"e":102,"v":12},{"r":22,"x":102,"e":103,"v":-40},{"r":22,"x":103,"e":104,"v":-100},
{"r":23,"x":93,"e":95,"v":12},{"r":23,"x":96,"e":98,"v":12},{"r":23,"x":103,"e":104,"v":12},
{"r":24,"x":90,"e":91,"v":12},{"r":24,"x":92,"e":93,"v":-100},{"r":24,"x":93,"e":94,"v":100},{"r":24,"x":94,"e":95,"v":12},{"r":24,"x":96,"e":97,"v":100},{"r":24,"x":97,"e":98,"v":-100},{"r":24,"x":98,"e":99,"v":100},{"r":24,"x":99,"e":100,"v":12},{"r":24,"x":100,"e":101,"v":-100},{"r":24,"x":101,"e":102,"v":100},
{"r":25,"x":78,"e":79,"v":-40},{"r":25,"x":82,"e":83,"v":40},{"r":25,"x":85,"e":86,"v":12},{"r":25,"x":86,"e":87,"v":40},{"r":25,"x":87,"e":90,"v":12},{"r":25,"x":93,"e":96,"v":12},{"r":25,"x":96,"e":97,"v":100},{"r":25,"x":97,"e":98,"v":-100},{"r":25,"x":98,"e":99,"v":100},{"r":25,"x":99,"e":100,"v":12},{"r":25,"x":100,"e":101,"v":-100},{"r":25,"x":101,"e":103,"v":-40},{"r":25,"x":103,"e":104,"v":100},
{"r":26,"x":79,"e":80,"v":12},{"r":26,"x":82,"e":83,"v":12},{"r":26,"x":84,"e":85,"v":12},{"r":26,"x":86,"e":89,"v":12},{"r":26,"x":90,"e":92,"v":12},{"r":26,"x":96,"e":97,"v":100},{"r":26,"x":98,"e":99,"v":100},{"r":26,"x":99,"e":100,"v":12},{"r":26,"x":101,"e":104,"v":12}],
"panelD":[
{"r":0,"x":7,"e":8,"v":40},{"r":0,"x":9,"e":10,"v":-12},{"r":0,"x":19,"e":20,"v":-12},{"r":0,"x":21,"e":22,"v":100},{"r":0,"x":24,"e":25,"v":-12},
{"r":1,"x":1,"e":3,"v":-12},{"r":1,"x":4,"e":5,"v":-12},{"r":1,"x":6,"e":10,"v":-12},{"r":1,"x":12,"e":14,"v":-12},{"r":1,"x":15,"e":18,"v":-12},{"r":1,"x":22,"e":23,"v":-12},{"r":1,"x":23,"e":24,"v":-40},{"r":1,"x":25,"e":26,"v":-12},
{"r":2,"x":1,"e":5,"v":-12},{"r":2,"x":6,"e":8,"v":-12},{"r":2,"x":9,"e":11,"v":-12},{"r":2,"x":15,"e":16,"v":-12},{"r":2,"x":18,"e":19,"v":100},{"r":2,"x":22,"e":26,"v":-12},
{"r":3,"x":0,"e":3,"v":-12},{"r":3,"x":6,"e":8,"v":-12},{"r":3,"x":9,"e":10,"v":-12},{"r":3,"x":12,"e":13,"v":-12},{"r":3,"x":14,"e":17,"v":-12},{"r":3,"x":21,"e":24,"v":-12},{"r":3,"x":25,"e":26,"v":-12},
{"r":4,"x":1,"e":3,"v":-12},{"r":4,"x":4,"e":5,"v":-12},{"r":4,"x":7,"e":9,"v":-12},{"r":4,"x":12,"e":16,"v":-12},{"r":4,"x":20,"e":21,"v":-12},{"r":4,"x":22,"e":23,"v":-12},{"r":4,"x":24,"e":26,"v":-12},
{"r":5,"x":0,"e":1,"v":40},{"r":5,"x":1,"e":2,"v":-12},{"r":5,"x":3,"e":4,"v":-12},{"r":5,"x":6,"e":8,"v":-12},{"r":5,"x":9,"e":10,"v":-12},{"r":5,"x":13,"e":14,"v":-12},{"r":5,"x":19,"e":20,"v":40},{"r":5,"x":22,"e":24,"v":-12},{"r":5,"x":25,"e":26,"v":-12},
{"r":6,"x":2,"e":5,"v":-12},{"r":6,"x":7,"e":8,"v":-12},{"r":6,"x":10,"e":11,"v":-12},{"r":6,"x":12,"e":13,"v":-12},{"r":6,"x":14,"e":16,"v":-12},{"r":6,"x":19,"e":21,"v":-12},{"r":6,"x":22,"e":24,"v":-12},{"r":6,"x":25,"e":26,"v":-12},
{"r":7,"x":0,"e":1,"v":100},{"r":7,"x":2,"e":4,"v":-12},{"r":7,"x":6,"e":8,"v":-12},{"r":7,"x":9,"e":10,"v":-12},{"r":7,"x":21,"e":22,"v":-12},{"r":7,"x":23,"e":24,"v":-12},{"r":7,"x":25,"e":26,"v":-12},
{"r":8,"x":2,"e":3,"v":-12},{"r":8,"x":4,"e":5,"v":-12},{"r":8,"x":8,"e":9,"v":-12},{"r":8,"x":10,"e":11,"v":-12},{"r":8,"x":12,"e":13,"v":-12},{"r":8,"x":14,"e":16,"v":-12},{"r":8,"x":20,"e":21,"v":-12},{"r":8,"x":23,"e":24,"v":-12},
{"r":9,"x":0,"e":1,"v":-100},{"r":9,"x":1,"e":5,"v":-12},{"r":9,"x":7,"e":8,"v":-12},{"r":9,"x":9,"e":11,"v":-12},{"r":9,"x":12,"e":13,"v":-12},{"r":9,"x":16,"e":17,"v":-12},{"r":9,"x":18,"e":19,"v":-12},{"r":9,"x":20,"e":22,"v":-12},{"r":9,"x":23,"e":24,"v":-12},{"r":9,"x":25,"e":26,"v":-12},
{"r":10,"x":0,"e":1,"v":-12},{"r":10,"x":2,"e":6,"v":-12},{"r":10,"x":7,"e":8,"v":-12},{"r":10,"x":9,"e":11,"v":-12},{"r":10,"x":11,"e":12,"v":100},{"r":10,"x":12,"e":14,"v":-12},{"r":10,"x":19,"e":20,"v":-12},{"r":10,"x":21,"e":24,"v":-12},{"r":10,"x":25,"e":26,"v":-12},
{"r":11,"x":0,"e":1,"v":-12},{"r":11,"x":2,"e":3,"v":-12},{"r":11,"x":5,"e":6,"v":-12},{"r":11,"x":10,"e":11,"v":-12},{"r":11,"x":12,"e":14,"v":-12},{"r":11,"x":15,"e":16,"v":-12},{"r":11,"x":17,"e":18,"v":40},{"r":11,"x":18,"e":19,"v":-12},{"r":11,"x":20,"e":21,"v":40},{"r":11,"x":23,"e":25,"v":-12},
{"r":12,"x":1,"e":2,"v":-12},{"r":12,"x":4,"e":5,"v":-12},{"r":12,"x":6,"e":10,"v":-12},{"r":12,"x":15,"e":16,"v":-12},{"r":12,"x":17,"e":18,"v":-12},{"r":12,"x":20,"e":21,"v":40},{"r":12,"x":21,"e":26,"v":-12},
{"r":13,"x":2,"e":3,"v":-12},{"r":13,"x":4,"e":8,"v":-12},{"r":13,"x":9,"e":10,"v":-12},{"r":13,"x":16,"e":17,"v":-12},{"r":13,"x":19,"e":21,"v":-12},{"r":13,"x":23,"e":24,"v":-12},{"r":13,"x":25,"e":26,"v":-12},
{"r":14,"x":0,"e":3,"v":-12},{"r":14,"x":4,"e":5,"v":-12},{"r":14,"x":6,"e":9,"v":-12},{"r":14,"x":10,"e":11,"v":-12},{"r":14,"x":12,"e":13,"v":-12},{"r":14,"x":14,"e":17,"v":-12},{"r":14,"x":19,"e":23,"v":-12},{"r":14,"x":25,"e":26,"v":-12},
{"r":15,"x":0,"e":3,"v":-12},{"r":15,"x":6,"e":7,"v":-12},{"r":15,"x":9,"e":11,"v":-12},{"r":15,"x":13,"e":14,"v":100},{"r":15,"x":17,"e":22,"v":-12},{"r":15,"x":22,"e":23,"v":-40},{"r":15,"x":23,"e":24,"v":100},{"r":15,"x":24,"e":25,"v":40},{"r":15,"x":25,"e":26,"v":-12},
{"r":16,"x":0,"e":2,"v":-12},{"r":16,"x":3,"e":4,"v":-12},{"r":16,"x":5,"e":7,"v":-12},{"r":16,"x":7,"e":8,"v":40},{"r":16,"x":9,"e":10,"v":-100},{"r":16,"x":11,"e":12,"v":100},{"r":16,"x":13,"e":16,"v":-12},{"r":16,"x":20,"e":22,"v":-12},{"r":16,"x":25,"e":26,"v":-12},
{"r":17,"x":2,"e":4,"v":-12},{"r":17,"x":5,"e":6,"v":-12},{"r":17,"x":7,"e":8,"v":-12},{"r":17,"x":11,"e":12,"v":-12},{"r":17,"x":12,"e":13,"v":40},{"r":17,"x":15,"e":17,"v":-12},{"r":17,"x":20,"e":21,"v":-12},{"r":17,"x":25,"e":26,"v":-12},
{"r":18,"x":2,"e":3,"v":-12},{"r":18,"x":4,"e":5,"v":-12},{"r":18,"x":6,"e":8,"v":-12},{"r":18,"x":9,"e":10,"v":-12},{"r":18,"x":13,"e":14,"v":-12},{"r":18,"x":16,"e":17,"v":-12},{"r":18,"x":21,"e":22,"v":-12},{"r":18,"x":25,"e":26,"v":-12},
{"r":19,"x":0,"e":1,"v":40},{"r":19,"x":1,"e":8,"v":-12},{"r":19,"x":10,"e":11,"v":-12},{"r":19,"x":20,"e":21,"v":-12},{"r":19,"x":23,"e":24,"v":-12},{"r":19,"x":25,"e":26,"v":-12},
{"r":20,"x":0,"e":1,"v":-12},{"r":20,"x":2,"e":3,"v":-12},{"r":20,"x":4,"e":5,"v":-12},{"r":20,"x":6,"e":7,"v":-12},{"r":20,"x":9,"e":11,"v":-12},{"r":20,"x":14,"e":15,"v":-12},{"r":20,"x":16,"e":17,"v":-12},{"r":20,"x":21,"e":23,"v":-12},{"r":20,"x":24,"e":25,"v":40},{"r":20,"x":25,"e":26,"v":100},
{"r":21,"x":0,"e":1,"v":100},{"r":21,"x":5,"e":6,"v":-12},{"r":21,"x":7,"e":13,"v":-12},{"r":21,"x":15,"e":21,"v":-12},{"r":21,"x":24,"e":25,"v":100},
{"r":22,"x":0,"e":1,"v":-12},{"r":22,"x":4,"e":8,"v":-12},{"r":22,"x":13,"e":16,"v":-12},{"r":22,"x":17,"e":18,"v":-12},{"r":22,"x":19,"e":21,"v":-12},{"r":22,"x":25,"e":26,"v":40},
{"r":23,"x":0,"e":1,"v":-40},{"r":23,"x":2,"e":6,"v":-12},{"r":23,"x":7,"e":9,"v":-12},{"r":23,"x":20,"e":21,"v":-12},{"r":23,"x":23,"e":24,"v":-12},
{"r":24,"x":0,"e":1,"v":-12},{"r":24,"x":3,"e":4,"v":-12},{"r":24,"x":5,"e":6,"v":-12},{"r":24,"x":6,"e":7,"v":40},{"r":24,"x":7,"e":12,"v":-12},{"r":24,"x":15,"e":17,"v":-12},{"r":24,"x":19,"e":20,"v":-12},{"r":24,"x":21,"e":25,"v":-12},
{"r":25,"x":0,"e":1,"v":-100},{"r":25,"x":1,"e":3,"v":-12},{"r":25,"x":4,"e":5,"v":-12},{"r":25,"x":7,"e":8,"v":-12},{"r":25,"x":11,"e":13,"v":-12},{"r":25,"x":15,"e":16,"v":-12},{"r":25,"x":17,"e":18,"v":-12},{"r":25,"x":19,"e":23,"v":-12},{"r":25,"x":24,"e":25,"v":-12},
{"r":26,"x":3,"e":4,"v":100},{"r":26,"x":5,"e":6,"v":-12},{"r":26,"x":7,"e":8,"v":-12},{"r":26,"x":20,"e":22,"v":-12},
{"r":27,"x":0,"e":1,"v":100},{"r":27,"x":2,"e":3,"v":-12},{"r":27,"x":4,"e":5,"v":40},{"r":27,"x":6,"e":7,"v":-12},{"r":27,"x":16,"e":17,"v":40},{"r":27,"x":20,"e":21,"v":-12},{"r":27,"x":22,"e":23,"v":-12},{"r":27,"x":25,"e":26,"v":-100},
{"r":28,"x":0,"e":1,"v":-100},{"r":28,"x":3,"e":4,"v":-12},{"r":28,"x":5,"e":6,"v":100},{"r":28,"x":7,"e":8,"v":-12},{"r":28,"x":11,"e":12,"v":-12},{"r":28,"x":13,"e":15,"v":-12},{"r":28,"x":16,"e":17,"v":-12},{"r":28,"x":18,"e":19,"v":-12},{"r":28,"x":20,"e":22,"v":-12},{"r":28,"x":22,"e":23,"v":-40},{"r":28,"x":23,"e":25,"v":100},{"r":28,"x":25,"e":26,"v":-12},
{"r":29,"x":3,"e":4,"v":-12},{"r":29,"x":7,"e":8,"v":-12},{"r":29,"x":10,"e":11,"v":-12},{"r":29,"x":12,"e":14,"v":-12},{"r":29,"x":14,"e":15,"v":100},{"r":29,"x":15,"e":16,"v":-12},{"r":29,"x":20,"e":21,"v":-12},{"r":29,"x":22,"e":23,"v":-12},{"r":29,"x":24,"e":25,"v":-12},{"r":29,"x":25,"e":26,"v":-12},
{"r":30,"x":1,"e":2,"v":-12},{"r":30,"x":6,"e":8,"v":-12},{"r":30,"x":9,"e":10,"v":-12},{"r":30,"x":15,"e":16,"v":-12},{"r":30,"x":19,"e":22,"v":-12},{"r":30,"x":25,"e":26,"v":-12},

{"r":0,"x":27,"e":29,"v":-12},{"r":0,"x":39,"e":40,"v":-12},{"r":0,"x":43,"e":44,"v":-12},{"r":0,"x":45,"e":46,"v":100},{"r":0,"x":46,"e":47,"v":40},{"r":0,"x":48,"e":49,"v":-12},{"r":0,"x":50,"e":52,"v":-12},
{"r":1,"x":26,"e":30,"v":-12},{"r":1,"x":32,"e":35,"v":-12},{"r":1,"x":36,"e":38,"v":-12},{"r":1,"x":39,"e":41,"v":-12},{"r":1,"x":42,"e":43,"v":-12},{"r":1,"x":47,"e":48,"v":-12},{"r":1,"x":49,"e":50,"v":-12},{"r":1,"x":51,"e":52,"v":-12},
{"r":2,"x":26,"e":27,"v":-100},{"r":2,"x":27,"e":30,"v":-12},{"r":2,"x":31,"e":32,"v":-12},{"r":2,"x":34,"e":35,"v":-12},{"r":2,"x":36,"e":37,"v":-12},{"r":2,"x":38,"e":39,"v":-12},{"r":2,"x":39,"e":40,"v":40},{"r":2,"x":40,"e":41,"v":-12},{"r":2,"x":44,"e":45,"v":-12},{"r":2,"x":46,"e":47,"v":-12},{"r":2,"x":50,"e":52,"v":-12},
{"r":3,"x":26,"e":27,"v":-100},{"r":3,"x":27,"e":28,"v":-12},{"r":3,"x":33,"e":36,"v":-12},{"r":3,"x":37,"e":38,"v":100},{"r":3,"x":39,"e":40,"v":-40},{"r":3,"x":40,"e":42,"v":-12},{"r":3,"x":49,"e":50,"v":-12},
{"r":4,"x":27,"e":29,"v":-12},{"r":4,"x":32,"e":34,"v":-12},{"r":4,"x":35,"e":37,"v":-12},{"r":4,"x":39,"e":40,"v":-12},{"r":4,"x":43,"e":44,"v":-12},{"r":4,"x":45,"e":46,"v":-12},
{"r":5,"x":26,"e":27,"v":-40},{"r":5,"x":27,"e":29,"v":-12},{"r":5,"x":32,"e":34,"v":-12},{"r":5,"x":36,"e":37,"v":-12},{"r":5,"x":44,"e":45,"v":-12},{"r":5,"x":46,"e":47,"v":-12},{"r":5,"x":48,"e":52,"v":-12},
{"r":6,"x":26,"e":28,"v":-12},{"r":6,"x":30,"e":33,"v":-12},{"r":6,"x":34,"e":35,"v":-12},{"r":6,"x":36,"e":37,"v":-12},{"r":6,"x":43,"e":44,"v":40},{"r":6,"x":44,"e":45,"v":-12},{"r":6,"x":46,"e":47,"v":-12},{"r":6,"x":48,"e":49,"v":-12},{"r":6,"x":51,"e":52,"v":-12},
{"r":7,"x":26,"e":28,"v":-12},{"r":7,"x":29,"e":34,"v":-12},{"r":7,"x":36,"e":37,"v":-12},{"r":7,"x":39,"e":41,"v":-12},{"r":7,"x":41,"e":42,"v":40},{"r":7,"x":43,"e":44,"v":-12},{"r":7,"x":49,"e":50,"v":-12},{"r":7,"x":51,"e":52,"v":-12},
{"r":8,"x":27,"e":28,"v":-12},{"r":8,"x":29,"e":30,"v":-12},{"r":8,"x":33,"e":34,"v":-12},{"r":8,"x":34,"e":35,"v":100},{"r":8,"x":35,"e":36,"v":-12},{"r":8,"x":36,"e":37,"v":-100},{"r":8,"x":39,"e":42,"v":-12},{"r":8,"x":46,"e":47,"v":-12},
{"r":9,"x":26,"e":27,"v":-12},{"r":9,"x":35,"e":38,"v":-12},{"r":9,"x":39,"e":41,"v":-12},{"r":9,"x":42,"e":44,"v":-12},{"r":9,"x":45,"e":47,"v":-12},{"r":9,"x":51,"e":52,"v":-12},
{"r":10,"x":27,"e":28,"v":-12},{"r":10,"x":29,"e":30,"v":-12},{"r":10,"x":31,"e":33,"v":-12},{"r":10,"x":36,"e":38,"v":-12},{"r":10,"x":39,"e":40,"v":-12},{"r":10,"x":41,"e":42,"v":-12},{"r":10,"x":45,"e":46,"v":-12},{"r":10,"x":49,"e":50,"v":-12},
{"r":11,"x":26,"e":28,"v":-12},{"r":11,"x":31,"e":32,"v":-12},{"r":11,"x":33,"e":36,"v":-12},{"r":11,"x":39,"e":40,"v":-40},{"r":11,"x":42,"e":44,"v":-12},{"r":11,"x":44,"e":45,"v":100},{"r":11,"x":46,"e":47,"v":-12},{"r":11,"x":48,"e":49,"v":-12},
{"r":12,"x":26,"e":28,"v":-100},{"r":12,"x":28,"e":30,"v":-12},{"r":12,"x":32,"e":33,"v":-12},{"r":12,"x":36,"e":39,"v":-12},{"r":12,"x":40,"e":41,"v":-12},{"r":12,"x":42,"e":43,"v":-12},{"r":12,"x":45,"e":46,"v":-12},{"r":12,"x":50,"e":51,"v":40},
{"r":13,"x":27,"e":28,"v":-40},{"r":13,"x":28,"e":37,"v":-12},{"r":13,"x":40,"e":42,"v":-12},
{"r":14,"x":26,"e":29,"v":-12},{"r":14,"x":30,"e":31,"v":-12},{"r":14,"x":32,"e":40,"v":-12},{"r":14,"x":41,"e":44,"v":-12},{"r":14,"x":45,"e":46,"v":-12},{"r":14,"x":47,"e":49,"v":-12},{"r":14,"x":50,"e":51,"v":-12},
{"r":15,"x":26,"e":27,"v":-100},{"r":15,"x":31,"e":32,"v":-12},{"r":15,"x":33,"e":34,"v":-12},{"r":15,"x":35,"e":36,"v":40},{"r":15,"x":37,"e":38,"v":-12},{"r":15,"x":42,"e":43,"v":-12},{"r":15,"x":46,"e":47,"v":-12},{"r":15,"x":49,"e":51,"v":-12},
{"r":16,"x":27,"e":28,"v":-40},{"r":16,"x":29,"e":30,"v":-12},{"r":16,"x":31,"e":32,"v":40},{"r":16,"x":35,"e":36,"v":100},{"r":16,"x":37,"e":38,"v":-12},{"r":16,"x":39,"e":42,"v":-12},{"r":16,"x":44,"e":46,"v":-12},
{"r":17,"x":27,"e":28,"v":-40},{"r":17,"x":28,"e":29,"v":-12},{"r":17,"x":33,"e":34,"v":100},{"r":17,"x":35,"e":36,"v":-100},{"r":17,"x":38,"e":39,"v":-12},{"r":17,"x":41,"e":42,"v":100},{"r":17,"x":43,"e":46,"v":-12},{"r":17,"x":47,"e":50,"v":-12},
{"r":18,"x":26,"e":35,"v":-12},{"r":18,"x":36,"e":38,"v":-12},{"r":18,"x":41,"e":42,"v":-12},{"r":18,"x":45,"e":47,"v":-12},{"r":18,"x":50,"e":52,"v":-12},
{"r":19,"x":26,"e":30,"v":-12},{"r":19,"x":32,"e":33,"v":-12},{"r":19,"x":33,"e":34,"v":40},{"r":19,"x":37,"e":38,"v":-12},{"r":19,"x":40,"e":43,"v":-12},{"r":19,"x":46,"e":52,"v":-12},
{"r":20,"x":26,"e":28,"v":-12},{"r":20,"x":29,"e":30,"v":-12},{"r":20,"x":31,"e":32,"v":-12},{"r":20,"x":32,"e":33,"v":-40},{"r":20,"x":34,"e":36,"v":-12},{"r":20,"x":37,"e":38,"v":-12},{"r":20,"x":40,"e":41,"v":-12},{"r":20,"x":42,"e":43,"v":-12},{"r":20,"x":46,"e":47,"v":-12},{"r":20,"x":49,"e":50,"v":-12},
{"r":21,"x":26,"e":27,"v":-12},{"r":21,"x":27,"e":28,"v":-100},{"r":21,"x":28,"e":29,"v":-12},{"r":21,"x":30,"e":34,"v":-12},{"r":21,"x":36,"e":38,"v":-12},{"r":21,"x":40,"e":43,"v":-12},{"r":21,"x":50,"e":52,"v":-12},
{"r":22,"x":26,"e":27,"v":-12},{"r":22,"x":27,"e":28,"v":-40},{"r":22,"x":29,"e":31,"v":-12},{"r":22,"x":32,"e":35,"v":-12},{"r":22,"x":37,"e":40,"v":-12},{"r":22,"x":44,"e":46,"v":-12},{"r":22,"x":48,"e":49,"v":-12},
{"r":23,"x":29,"e":30,"v":-12},{"r":23,"x":32,"e":33,"v":-12},{"r":23,"x":34,"e":39,"v":-12},{"r":23,"x":40,"e":43,"v":-12},{"r":23,"x":45,"e":47,"v":-12},{"r":23,"x":49,"e":52,"v":-12},
{"r":24,"x":28,"e":30,"v":-12},{"r":24,"x":31,"e":33,"v":-12},{"r":24,"x":35,"e":36,"v":-12},{"r":24,"x":37,"e":38,"v":40},{"r":24,"x":38,"e":40,"v":-12},{"r":24,"x":42,"e":43,"v":-40},{"r":24,"x":46,"e":47,"v":-12},{"r":24,"x":49,"e":50,"v":-12},
{"r":25,"x":26,"e":28,"v":-12},{"r":25,"x":31,"e":43,"v":-12},{"r":25,"x":44,"e":46,"v":-12},{"r":25,"x":47,"e":48,"v":-12},{"r":25,"x":49,"e":50,"v":-12},
{"r":26,"x":26,"e":27,"v":-12},{"r":26,"x":33,"e":34,"v":-12},{"r":26,"x":36,"e":39,"v":-12},{"r":26,"x":40,"e":41,"v":40},{"r":26,"x":41,"e":43,"v":-12},{"r":26,"x":49,"e":50,"v":-12},
{"r":27,"x":28,"e":29,"v":-12},{"r":27,"x":30,"e":31,"v":-12},{"r":27,"x":33,"e":34,"v":-12},{"r":27,"x":37,"e":39,"v":-12},{"r":27,"x":40,"e":41,"v":-12},{"r":27,"x":45,"e":46,"v":-12},{"r":27,"x":47,"e":48,"v":-12},{"r":27,"x":49,"e":50,"v":-12},{"r":27,"x":51,"e":52,"v":-12},
{"r":28,"x":27,"e":30,"v":-12},{"r":28,"x":31,"e":33,"v":-12},{"r":28,"x":37,"e":39,"v":-12},{"r":28,"x":41,"e":42,"v":-12},{"r":28,"x":45,"e":46,"v":-12},{"r":28,"x":49,"e":50,"v":-12},{"r":28,"x":51,"e":52,"v":-12},
{"r":29,"x":26,"e":28,"v":-12},{"r":29,"x":30,"e":33,"v":-12},{"r":29,"x":34,"e":35,"v":-12},{"r":29,"x":36,"e":37,"v":-12},{"r":29,"x":38,"e":39,"v":-12},{"r":29,"x":40,"e":43,"v":-12},{"r":29,"x":44,"e":45,"v":-12},{"r":29,"x":49,"e":50,"v":-12},
{"r":30,"x":27,"e":28,"v":-12},{"r":30,"x":29,"e":35,"v":-12},{"r":30,"x":37,"e":38,"v":-12},{"r":30,"x":40,"e":42,"v":-12},{"r":30,"x":43,"e":44,"v":-12},{"r":30,"x":48,"e":49,"v":-12},{"r":30,"x":49,"e":50,"v":100},{"r":30,"x":50,"e":51,"v":-12},

{"r":0,"x":52,"e":53,"v":12},{"r":0,"x":53,"e":54,"v":40},{"r":0,"x":54,"e":58,"v":12},{"r":0,"x":58,"e":59,"v":100},{"r":0,"x":61,"e":66,"v":12},{"r":0,"x":67,"e":68,"v":12},{"r":0,"x":70,"e":71,"v":12},{"r":0,"x":71,"e":72,"v":100},{"r":0,"x":73,"e":77,"v":12},
{"r":1,"x":52,"e":53,"v":-40},{"r":1,"x":55,"e":56,"v":-40},{"r":1,"x":57,"e":58,"v":-100},{"r":1,"x":60,"e":61,"v":12},{"r":1,"x":65,"e":66,"v":12},{"r":1,"x":69,"e":70,"v":-100},{"r":1,"x":70,"e":71,"v":12},{"r":1,"x":72,"e":73,"v":12},
{"r":2,"x":52,"e":53,"v":-100},{"r":2,"x":58,"e":59,"v":12},{"r":2,"x":61,"e":62,"v":12},{"r":2,"x":63,"e":64,"v":12},{"r":2,"x":65,"e":66,"v":-40},{"r":2,"x":69,"e":70,"v":-100},{"r":2,"x":70,"e":71,"v":12},{"r":2,"x":73,"e":74,"v":12},{"r":2,"x":75,"e":76,"v":12},
{"r":3,"x":58,"e":60,"v":12},{"r":3,"x":61,"e":63,"v":12},{"r":3,"x":65,"e":69,"v":12},{"r":3,"x":71,"e":72,"v":12},{"r":3,"x":75,"e":76,"v":-40},{"r":3,"x":77,"e":78,"v":12},
{"r":4,"x":55,"e":56,"v":-40},{"r":4,"x":57,"e":58,"v":12},{"r":4,"x":58,"e":59,"v":-40},{"r":4,"x":60,"e":61,"v":-100},{"r":4,"x":61,"e":62,"v":100},{"r":4,"x":66,"e":67,"v":12},{"r":4,"x":67,"e":68,"v":-40},{"r":4,"x":69,"e":70,"v":12},{"r":4,"x":73,"e":74,"v":12},{"r":4,"x":76,"e":77,"v":12},
{"r":5,"x":57,"e":58,"v":12},{"r":5,"x":59,"e":60,"v":12},{"r":5,"x":61,"e":62,"v":12},{"r":5,"x":62,"e":63,"v":-40},{"r":5,"x":63,"e":64,"v":12},{"r":5,"x":67,"e":69,"v":12},{"r":5,"x":73,"e":74,"v":12},{"r":5,"x":74,"e":75,"v":100},{"r":5,"x":77,"e":78,"v":-100},
{"r":6,"x":52,"e":53,"v":-40},{"r":6,"x":56,"e":58,"v":12},{"r":6,"x":59,"e":60,"v":12},{"r":6,"x":61,"e":62,"v":12},{"r":6,"x":65,"e":67,"v":12},{"r":6,"x":72,"e":73,"v":12},{"r":6,"x":76,"e":77,"v":12},
{"r":7,"x":57,"e":58,"v":12},{"r":7,"x":59,"e":60,"v":12},{"r":7,"x":60,"e":61,"v":-100},{"r":7,"x":63,"e":65,"v":12},{"r":7,"x":68,"e":70,"v":12},{"r":7,"x":73,"e":74,"v":12},
{"r":8,"x":57,"e":60,"v":12},{"r":8,"x":62,"e":65,"v":12},{"r":8,"x":66,"e":68,"v":12},{"r":8,"x":69,"e":71,"v":12},{"r":8,"x":73,"e":74,"v":12},{"r":8,"x":75,"e":76,"v":12},{"r":8,"x":77,"e":78,"v":12},
{"r":9,"x":52,"e":56,"v":12},{"r":9,"x":58,"e":59,"v":12},{"r":9,"x":61,"e":62,"v":12},{"r":9,"x":63,"e":64,"v":12},{"r":9,"x":67,"e":68,"v":12},{"r":9,"x":72,"e":74,"v":12},
{"r":10,"x":52,"e":53,"v":12},{"r":10,"x":55,"e":57,"v":12},{"r":10,"x":58,"e":63,"v":12},{"r":10,"x":64,"e":65,"v":12},{"r":10,"x":66,"e":67,"v":12},{"r":10,"x":75,"e":76,"v":12},{"r":10,"x":76,"e":77,"v":-100},
{"r":11,"x":52,"e":54,"v":12},{"r":11,"x":57,"e":59,"v":12},{"r":11,"x":60,"e":61,"v":12},{"r":11,"x":63,"e":64,"v":12},{"r":11,"x":65,"e":66,"v":12},{"r":11,"x":67,"e":68,"v":12},{"r":11,"x":69,"e":70,"v":12},{"r":11,"x":71,"e":73,"v":12},{"r":11,"x":74,"e":75,"v":12},{"r":11,"x":76,"e":77,"v":40},
{"r":12,"x":53,"e":54,"v":-40},{"r":12,"x":55,"e":56,"v":-100},{"r":12,"x":57,"e":59,"v":12},{"r":12,"x":60,"e":61,"v":12},{"r":12,"x":63,"e":64,"v":-40},{"r":12,"x":66,"e":67,"v":12},{"r":12,"x":73,"e":75,"v":12},{"r":12,"x":76,"e":77,"v":12},{"r":12,"x":77,"e":78,"v":-100},
{"r":13,"x":52,"e":70,"v":12},{"r":13,"x":73,"e":75,"v":12},
{"r":14,"x":53,"e":54,"v":12},{"r":14,"x":55,"e":56,"v":12},{"r":14,"x":67,"e":68,"v":12},{"r":14,"x":71,"e":72,"v":12},{"r":14,"x":74,"e":77,"v":12},
{"r":15,"x":52,"e":56,"v":12},{"r":15,"x":57,"e":59,"v":12},{"r":15,"x":60,"e":61,"v":12},{"r":15,"x":62,"e":63,"v":12},{"r":15,"x":66,"e":67,"v":12},{"r":15,"x":68,"e":72,"v":12},{"r":15,"x":73,"e":74,"v":12},{"r":15,"x":76,"e":78,"v":12},
{"r":16,"x":52,"e":57,"v":12},{"r":16,"x":58,"e":59,"v":12},{"r":16,"x":60,"e":61,"v":12},{"r":16,"x":66,"e":67,"v":12},{"r":16,"x":71,"e":73,"v":12},{"r":16,"x":77,"e":78,"v":12},
{"r":17,"x":52,"e":54,"v":12},{"r":17,"x":57,"e":59,"v":12},{"r":17,"x":61,"e":65,"v":12},{"r":17,"x":68,"e":69,"v":12},{"r":17,"x":72,"e":76,"v":12},
{"r":18,"x":52,"e":53,"v":40},{"r":18,"x":53,"e":57,"v":12},{"r":18,"x":58,"e":59,"v":12},{"r":18,"x":63,"e":64,"v":12},{"r":18,"x":72,"e":74,"v":12},{"r":18,"x":77,"e":78,"v":12},
{"r":19,"x":52,"e":58,"v":12},{"r":19,"x":62,"e":63,"v":12},{"r":19,"x":68,"e":69,"v":12},{"r":19,"x":74,"e":75,"v":12},{"r":19,"x":76,"e":78,"v":12},
{"r":20,"x":53,"e":54,"v":12},{"r":20,"x":58,"e":59,"v":12},{"r":20,"x":59,"e":60,"v":-40},{"r":20,"x":61,"e":64,"v":12},{"r":20,"x":65,"e":66,"v":12},{"r":20,"x":67,"e":68,"v":12},{"r":20,"x":70,"e":71,"v":12},{"r":20,"x":73,"e":75,"v":12},{"r":20,"x":77,"e":78,"v":12},
{"r":21,"x":59,"e":60,"v":-40},{"r":21,"x":63,"e":65,"v":12},{"r":21,"x":68,"e":71,"v":12},{"r":21,"x":72,"e":75,"v":12},
{"r":22,"x":53,"e":54,"v":12},{"r":22,"x":57,"e":58,"v":-40},{"r":22,"x":60,"e":61,"v":12},{"r":22,"x":68,"e":69,"v":12},{"r":22,"x":71,"e":72,"v":12},{"r":22,"x":72,"e":73,"v":40},{"r":22,"x":73,"e":74,"v":-100},{"r":22,"x":77,"e":78,"v":12},
{"r":23,"x":52,"e":53,"v":12},{"r":23,"x":54,"e":55,"v":12},{"r":23,"x":56,"e":57,"v":12},{"r":23,"x":60,"e":61,"v":12},{"r":23,"x":64,"e":65,"v":-40},{"r":23,"x":73,"e":74,"v":12},{"r":23,"x":77,"e":78,"v":12},
{"r":24,"x":53,"e":54,"v":12},{"r":24,"x":56,"e":57,"v":12},{"r":24,"x":58,"e":60,"v":12},{"r":24,"x":61,"e":64,"v":12},{"r":24,"x":67,"e":70,"v":12},{"r":24,"x":71,"e":74,"v":12},{"r":24,"x":75,"e":76,"v":12},
{"r":25,"x":53,"e":54,"v":12},{"r":25,"x":56,"e":57,"v":12},{"r":25,"x":58,"e":59,"v":12},{"r":25,"x":62,"e":63,"v":12},{"r":25,"x":69,"e":70,"v":12},{"r":25,"x":70,"e":71,"v":-40},{"r":25,"x":71,"e":72,"v":12},
{"r":26,"x":52,"e":55,"v":12},{"r":26,"x":57,"e":58,"v":12},{"r":26,"x":60,"e":61,"v":12},{"r":26,"x":62,"e":63,"v":12},{"r":26,"x":64,"e":69,"v":12},{"r":26,"x":70,"e":71,"v":12},{"r":26,"x":72,"e":75,"v":12},{"r":26,"x":76,"e":78,"v":12},
{"r":27,"x":52,"e":54,"v":12},{"r":27,"x":55,"e":56,"v":12},{"r":27,"x":58,"e":60,"v":12},{"r":27,"x":61,"e":62,"v":12},{"r":27,"x":63,"e":64,"v":12},{"r":27,"x":64,"e":65,"v":-40},{"r":27,"x":66,"e":69,"v":12},{"r":27,"x":70,"e":71,"v":12},{"r":27,"x":75,"e":77,"v":12},
{"r":28,"x":52,"e":53,"v":12},{"r":28,"x":54,"e":55,"v":12},{"r":28,"x":59,"e":60,"v":12},{"r":28,"x":64,"e":68,"v":12},{"r":28,"x":73,"e":74,"v":12},{"r":28,"x":75,"e":77,"v":12},
{"r":29,"x":52,"e":55,"v":12},{"r":29,"x":56,"e":57,"v":12},{"r":29,"x":58,"e":59,"v":12},{"r":29,"x":60,"e":61,"v":12},{"r":29,"x":62,"e":63,"v":12},{"r":29,"x":64,"e":65,"v":12},{"r":29,"x":66,"e":68,"v":12},{"r":29,"x":70,"e":71,"v":100},{"r":29,"x":74,"e":76,"v":12},
{"r":30,"x":52,"e":53,"v":12},{"r":30,"x":53,"e":54,"v":100},{"r":30,"x":54,"e":56,"v":12},{"r":30,"x":58,"e":61,"v":12},{"r":30,"x":63,"e":64,"v":40},{"r":30,"x":65,"e":66,"v":12},{"r":30,"x":67,"e":69,"v":12},{"r":30,"x":70,"e":71,"v":12},{"r":30,"x":72,"e":74,"v":12},{"r":30,"x":75,"e":76,"v":12},{"r":30,"x":77,"e":78,"v":12},

{"r":0,"x":78,"e":80,"v":12},{"r":0,"x":81,"e":89,"v":12},{"r":0,"x":90,"e":98,"v":12},{"r":0,"x":99,"e":104,"v":12},
{"r":1,"x":78,"e":79,"v":-100},{"r":1,"x":80,"e":82,"v":12},{"r":1,"x":83,"e":84,"v":12},{"r":1,"x":85,"e":86,"v":-40},{"r":1,"x":88,"e":89,"v":12},{"r":1,"x":98,"e":99,"v":-100},{"r":1,"x":101,"e":104,"v":12},
{"r":2,"x":78,"e":80,"v":-100},{"r":2,"x":80,"e":81,"v":12},{"r":2,"x":82,"e":83,"v":12},{"r":2,"x":86,"e":87,"v":100},{"r":2,"x":91,"e":92,"v":12},{"r":2,"x":93,"e":94,"v":12},{"r":2,"x":95,"e":97,"v":12},{"r":2,"x":101,"e":104,"v":12},
{"r":3,"x":78,"e":79,"v":12},{"r":3,"x":80,"e":81,"v":12},{"r":3,"x":84,"e":85,"v":-100},{"r":3,"x":85,"e":86,"v":12},{"r":3,"x":87,"e":88,"v":12},{"r":3,"x":89,"e":90,"v":-40},{"r":3,"x":90,"e":92,"v":12},{"r":3,"x":93,"e":94,"v":12},{"r":3,"x":96,"e":97,"v":-40},{"r":3,"x":97,"e":98,"v":12},{"r":3,"x":99,"e":103,"v":12},
{"r":4,"x":78,"e":79,"v":-40},{"r":4,"x":79,"e":80,"v":12},{"r":4,"x":80,"e":81,"v":-40},{"r":4,"x":83,"e":85,"v":12},{"r":4,"x":89,"e":90,"v":12},{"r":4,"x":90,"e":91,"v":-40},{"r":4,"x":91,"e":92,"v":40},{"r":4,"x":95,"e":96,"v":12},{"r":4,"x":97,"e":98,"v":12},{"r":4,"x":99,"e":100,"v":-100},{"r":4,"x":102,"e":103,"v":12},
{"r":5,"x":78,"e":79,"v":12},{"r":5,"x":82,"e":83,"v":12},{"r":5,"x":84,"e":85,"v":12},{"r":5,"x":88,"e":89,"v":12},{"r":5,"x":89,"e":90,"v":-40},{"r":5,"x":90,"e":92,"v":12},{"r":5,"x":95,"e":96,"v":-100},{"r":5,"x":96,"e":98,"v":12},{"r":5,"x":99,"e":100,"v":-40},{"r":5,"x":100,"e":102,"v":12},
{"r":6,"x":78,"e":79,"v":12},{"r":6,"x":80,"e":81,"v":12},{"r":6,"x":84,"e":86,"v":12},{"r":6,"x":89,"e":90,"v":40},{"r":6,"x":92,"e":93,"v":12},{"r":6,"x":97,"e":98,"v":12},{"r":6,"x":100,"e":101,"v":12},
{"r":7,"x":78,"e":80,"v":12},{"r":7,"x":80,"e":81,"v":-40},{"r":7,"x":87,"e":89,"v":12},{"r":7,"x":92,"e":93,"v":12},{"r":7,"x":97,"e":99,"v":12},{"r":7,"x":101,"e":102,"v":12},
{"r":8,"x":81,"e":83,"v":12},{"r":8,"x":84,"e":85,"v":12},{"r":8,"x":86,"e":88,"v":12},{"r":8,"x":90,"e":92,"v":12},{"r":8,"x":94,"e":97,"v":12},{"r":8,"x":98,"e":99,"v":12},{"r":8,"x":102,"e":104,"v":12},
{"r":9,"x":79,"e":80,"v":12},{"r":9,"x":95,"e":96,"v":12},{"r":9,"x":97,"e":98,"v":12},{"r":9,"x":100,"e":102,"v":12},
{"r":10,"x":78,"e":79,"v":40},{"r":10,"x":79,"e":80,"v":-40},{"r":10,"x":87,"e":88,"v":12},{"r":10,"x":89,"e":90,"v":12},{"r":10,"x":91,"e":92,"v":12},{"r":10,"x":99,"e":100,"v":12},{"r":10,"x":100,"e":101,"v":-40},{"r":10,"x":103,"e":104,"v":100},
{"r":11,"x":78,"e":79,"v":-100},{"r":11,"x":80,"e":81,"v":12},{"r":11,"x":83,"e":84,"v":12},{"r":11,"x":85,"e":88,"v":12},{"r":11,"x":89,"e":90,"v":12},{"r":11,"x":91,"e":92,"v":12},{"r":11,"x":93,"e":95,"v":12},{"r":11,"x":98,"e":99,"v":12},{"r":11,"x":100,"e":102,"v":12},
{"r":12,"x":79,"e":80,"v":-100},{"r":12,"x":80,"e":81,"v":12},{"r":12,"x":82,"e":83,"v":12},{"r":12,"x":86,"e":87,"v":12},{"r":12,"x":88,"e":90,"v":12},{"r":12,"x":93,"e":94,"v":12},{"r":12,"x":94,"e":95,"v":100},{"r":12,"x":95,"e":96,"v":-100},{"r":12,"x":97,"e":98,"v":12},{"r":12,"x":101,"e":104,"v":12},
{"r":13,"x":91,"e":93,"v":12},{"r":13,"x":97,"e":98,"v":12},
{"r":14,"x":79,"e":80,"v":12},{"r":14,"x":80,"e":81,"v":-100},{"r":14,"x":83,"e":84,"v":-40},{"r":14,"x":84,"e":85,"v":12},{"r":14,"x":86,"e":87,"v":12},{"r":14,"x":88,"e":89,"v":12},{"r":14,"x":90,"e":91,"v":12},{"r":14,"x":92,"e":96,"v":12},{"r":14,"x":100,"e":101,"v":12},
{"r":15,"x":79,"e":81,"v":-100},{"r":15,"x":81,"e":84,"v":12},{"r":15,"x":86,"e":87,"v":-100},{"r":15,"x":87,"e":91,"v":12},{"r":15,"x":92,"e":93,"v":12},{"r":15,"x":96,"e":97,"v":12},{"r":15,"x":103,"e":104,"v":12},
{"r":16,"x":85,"e":86,"v":-40},{"r":16,"x":86,"e":88,"v":12},{"r":16,"x":89,"e":90,"v":-40},{"r":16,"x":90,"e":91,"v":12},{"r":16,"x":93,"e":95,"v":12},{"r":16,"x":96,"e":97,"v":12},{"r":16,"x":98,"e":101,"v":12},
{"r":17,"x":79,"e":80,"v":12},{"r":17,"x":82,"e":83,"v":100},{"r":17,"x":85,"e":86,"v":12},{"r":17,"x":88,"e":89,"v":100},{"r":17,"x":91,"e":93,"v":12},{"r":17,"x":94,"e":95,"v":-40},{"r":17,"x":95,"e":96,"v":100},{"r":17,"x":98,"e":99,"v":12},{"r":17,"x":100,"e":101,"v":-100},{"r":17,"x":102,"e":103,"v":12},
{"r":18,"x":80,"e":81,"v":12},{"r":18,"x":82,"e":83,"v":-40},{"r":18,"x":84,"e":85,"v":12},{"r":18,"x":87,"e":89,"v":12},{"r":18,"x":92,"e":94,"v":12},{"r":18,"x":95,"e":98,"v":12},{"r":18,"x":100,"e":101,"v":12},
{"r":19,"x":82,"e":83,"v":-40},{"r":19,"x":83,"e":85,"v":12},{"r":19,"x":87,"e":88,"v":12},{"r":19,"x":89,"e":90,"v":12},{"r":19,"x":92,"e":95,"v":12},{"r":19,"x":96,"e":97,"v":12},{"r":19,"x":98,"e":99,"v":12},
{"r":20,"x":80,"e":81,"v":12},{"r":20,"x":85,"e":86,"v":12},{"r":20,"x":87,"e":90,"v":12},{"r":20,"x":94,"e":95,"v":12},{"r":20,"x":100,"e":103,"v":12},
{"r":21,"x":78,"e":80,"v":-100},{"r":21,"x":84,"e":85,"v":12},{"r":21,"x":86,"e":87,"v":12},{"r":21,"x":88,"e":89,"v":-40},{"r":21,"x":92,"e":94,"v":12},
{"r":22,"x":78,"e":80,"v":12},{"r":22,"x":84,"e":85,"v":12},{"r":22,"x":86,"e":88,"v":12},{"r":22,"x":90,"e":95,"v":12},{"r":22,"x":100,"e":101,"v":12},{"r":22,"x":103,"e":104,"v":-100},
{"r":23,"x":85,"e":86,"v":-100},{"r":23,"x":89,"e":90,"v":-40},{"r":23,"x":91,"e":92,"v":12},{"r":23,"x":98,"e":99,"v":-100},
{"r":24,"x":79,"e":80,"v":12},{"r":24,"x":87,"e":88,"v":12},{"r":24,"x":91,"e":92,"v":12},{"r":24,"x":96,"e":97,"v":12},{"r":24,"x":101,"e":103,"v":12},
{"r":25,"x":80,"e":81,"v":-100},{"r":25,"x":83,"e":84,"v":12},{"r":25,"x":87,"e":88,"v":12},{"r":25,"x":91,"e":93,"v":12},{"r":25,"x":99,"e":100,"v":12},{"r":25,"x":101,"e":102,"v":-100},{"r":25,"x":103,"e":104,"v":12},
{"r":26,"x":78,"e":83,"v":12},{"r":26,"x":84,"e":93,"v":12},{"r":26,"x":94,"e":104,"v":12},
{"r":27,"x":78,"e":79,"v":12},{"r":27,"x":80,"e":81,"v":-100},{"r":27,"x":81,"e":83,"v":12},{"r":27,"x":86,"e":87,"v":12},{"r":27,"x":90,"e":91,"v":12},{"r":27,"x":92,"e":93,"v":-40},{"r":27,"x":96,"e":97,"v":12},{"r":27,"x":99,"e":100,"v":12},{"r":27,"x":102,"e":104,"v":12},
{"r":28,"x":78,"e":79,"v":-40},{"r":28,"x":81,"e":82,"v":40},{"r":28,"x":84,"e":85,"v":12},{"r":28,"x":89,"e":90,"v":12},{"r":28,"x":93,"e":95,"v":12},{"r":28,"x":96,"e":97,"v":12},{"r":28,"x":98,"e":100,"v":12},
{"r":29,"x":84,"e":85,"v":12},{"r":29,"x":86,"e":87,"v":-40},{"r":29,"x":91,"e":93,"v":12},{"r":29,"x":94,"e":95,"v":12},{"r":29,"x":96,"e":97,"v":12},{"r":29,"x":103,"e":104,"v":12},
{"r":30,"x":79,"e":81,"v":12},{"r":30,"x":82,"e":84,"v":12},{"r":30,"x":85,"e":87,"v":12},{"r":30,"x":87,"e":88,"v":40},{"r":30,"x":88,"e":89,"v":12},{"r":30,"x":90,"e":94,"v":12},{"r":30,"x":95,"e":96,"v":12},{"r":30,"x":97,"e":99,"v":12},{"r":30,"x":101,"e":102,"v":100},{"r":30,"x":102,"e":103,"v":12}]},
"vconcat":[
{"width":986,"height":42,"data":{"name":"frame"},"layer":[
{"mark":{"type":"text","fontSize":18,"dy":3,"color":"#000"},"encoding":{"x":{"field":"c","type":"quantitative","scale":{"domain":[-4.91,124.9],"nice":false,"zero":false},"axis":null},"text":{"field":"t"}}},
{"mark":{"type":"rect","fill":null,"stroke":"#000","strokeWidth":3.5},"encoding":{"x":{"field":"x","type":"quantitative","scale":{"domain":[-4.91,124.9],"nice":false,"zero":false},"axis":null},"x2":{"field":"e"}}}]},
{"width":986,"height":125,"layer":[
{"data":{"name":"panelA"},"mark":{"type":"rect"},"encoding":{"x":{"field":"x","type":"quantitative","scale":{"domain":[-4.91,124.9],"nice":false,"zero":false},"axis":null},"x2":{"field":"e"},"y":{"field":"r","type":"ordinal","axis":null,"scale":{"domain":[0,1,2,3,4,5,6],"paddingInner":0,"paddingOuter":0.245,"align":0.93}},"fill":{"field":"v","type":"quantitative","legend":null,"scale":{"domain":[-100,0,100],"range":["#0000ff","#ffffff","#ff0000"],"interpolate":"rgb"}}}},
{"data":{"name":"statsA"},"mark":{"type":"text","fontSize":16,"dy":1.5},"encoding":{"x":{"field":"c","type":"quantitative","scale":{"domain":[-4.91,124.9],"nice":false,"zero":false},"axis":null},"y":{"field":"r","type":"ordinal","axis":null,"scale":{"domain":[0,1,2,3,4,5,6],"paddingInner":0,"paddingOuter":0.245,"align":0.93}},"text":{"field":"t"},"fill":{"field":"k","type":"nominal","scale":null}}},
{"data":{"values":[{"r":0,"t":"a"}]},"mark":{"type":"text","fontSize":26,"fontWeight":"bold","dy":-3,"color":"#000"},"encoding":{"x":{"datum":-2.15,"type":"quantitative","scale":{"domain":[-4.91,124.9],"nice":false,"zero":false},"axis":null},"y":{"field":"r","type":"ordinal","axis":null,"scale":{"domain":[0,1,2,3,4,5,6],"paddingInner":0,"paddingOuter":0.245,"align":0.93}},"text":{"field":"t"}}},
{"data":{"name":"frame"},"mark":{"type":"rect","fill":null,"stroke":"#000","strokeWidth":3.5},"encoding":{"x":{"field":"x","type":"quantitative","scale":{"domain":[-4.91,124.9],"nice":false,"zero":false},"axis":null},"x2":{"field":"e"}}}]},
{"width":986,"height":451,"layer":[
{"data":{"name":"baseB"},"mark":"rect","encoding":{"x":{"field":"x","type":"quantitative","scale":{"domain":[-4.91,124.9],"nice":false,"zero":false},"axis":null},"x2":{"field":"e"},"fill":{"field":"v","type":"quantitative","legend":null,"scale":{"domain":[-100,0,100],"range":["#0000ff","#ffffff","#ff0000"],"interpolate":"rgb"}}}},
{"data":{"name":"panelB"},"mark":"rect","encoding":{"x":{"field":"x","type":"quantitative","scale":{"domain":[-4.91,124.9],"nice":false,"zero":false},"axis":null},"x2":{"field":"e"},"y":{"field":"r","type":"ordinal","axis":null,"scale":{"domain":[0,1,2,3,4,5,6,7,8,9,10,11,12,13,14,15,16,17,18,19,20,21,22,23,24,25,26],"paddingInner":0,"paddingOuter":0}},"fill":{"field":"v","type":"quantitative","legend":null,"scale":{"domain":[-100,0,100],"range":["#0000ff","#ffffff","#ff0000"],"interpolate":"rgb"}}}},
{"data":{"name":"brazil"},"mark":{"type":"text","fontSize":16,"angle":325,"align":"left","baseline":"alphabetic","dy":6,"color":"#000"},"encoding":{"x":{"datum":105.7,"type":"quantitative","scale":{"domain":[-4.91,124.9],"nice":false,"zero":false},"axis":null},"y":{"field":"r","type":"ordinal","axis":null,"scale":{"domain":[0,1,2,3,4,5,6,7,8,9,10,11,12,13,14,15,16,17,18,19,20,21,22,23,24,25,26],"paddingInner":0,"paddingOuter":0}},"text":{"field":"n"}}},
{"data":{"values":[{"r":0,"t":"b"}]},"mark":{"type":"text","fontSize":26,"fontWeight":"bold","dy":8,"color":"#000"},"encoding":{"x":{"datum":-2.15,"type":"quantitative","scale":{"domain":[-4.91,124.9],"nice":false,"zero":false},"axis":null},"y":{"field":"r","type":"ordinal","axis":null,"scale":{"domain":[0,1,2,3,4,5,6,7,8,9,10,11,12,13,14,15,16,17,18,19,20,21,22,23,24,25,26],"paddingInner":0,"paddingOuter":0}},"text":{"field":"t"}}},
{"data":{"name":"frame"},"mark":{"type":"rect","fill":null,"stroke":"#000","strokeWidth":3.5},"encoding":{"x":{"field":"x","type":"quantitative","scale":{"domain":[-4.91,124.9],"nice":false,"zero":false},"axis":null},"x2":{"field":"e"}}}]},
{"width":986,"height":42,"data":{"name":"frame"},"layer":[
{"mark":{"type":"text","fontSize":18,"dy":4,"color":"#000"},"encoding":{"x":{"field":"c","type":"quantitative","scale":{"domain":[-4.91,124.9],"nice":false,"zero":false},"axis":null},"text":{"field":"t"}}},
{"mark":{"type":"rect","fill":null,"stroke":"#000","strokeWidth":3.5},"encoding":{"x":{"field":"x","type":"quantitative","scale":{"domain":[-4.91,124.9],"nice":false,"zero":false},"axis":null},"x2":{"field":"e"}}}]},
{"width":986,"height":126,"layer":[
{"data":{"name":"panelC"},"mark":{"type":"rect"},"encoding":{"x":{"field":"x","type":"quantitative","scale":{"domain":[-4.91,124.9],"nice":false,"zero":false},"axis":null},"x2":{"field":"e"},"y":{"field":"r","type":"ordinal","axis":null,"scale":{"domain":[0,1,2,3,4,5,6],"paddingInner":0,"paddingOuter":0.245,"align":0.93}},"fill":{"field":"v","type":"quantitative","legend":null,"scale":{"domain":[-100,0,100],"range":["#0000ff","#ffffff","#ff0000"],"interpolate":"rgb"}}}},
{"data":{"name":"statsC"},"mark":{"type":"text","fontSize":16,"dy":2},"encoding":{"x":{"field":"c","type":"quantitative","scale":{"domain":[-4.91,124.9],"nice":false,"zero":false},"axis":null},"y":{"field":"r","type":"ordinal","axis":null,"scale":{"domain":[0,1,2,3,4,5,6],"paddingInner":0,"paddingOuter":0.245,"align":0.93}},"text":{"field":"t"},"fill":{"field":"k","type":"nominal","scale":null}}},
{"data":{"values":[{"r":0,"t":"c"}]},"mark":{"type":"text","fontSize":26,"fontWeight":"bold","dy":-3,"color":"#000"},"encoding":{"x":{"datum":-2.15,"type":"quantitative","scale":{"domain":[-4.91,124.9],"nice":false,"zero":false},"axis":null},"y":{"field":"r","type":"ordinal","axis":null,"scale":{"domain":[0,1,2,3,4,5,6],"paddingInner":0,"paddingOuter":0.245,"align":0.93}},"text":{"field":"t"}}},
{"data":{"name":"frame"},"mark":{"type":"rect","fill":null,"stroke":"#000","strokeWidth":3.5},"encoding":{"x":{"field":"x","type":"quantitative","scale":{"domain":[-4.91,124.9],"nice":false,"zero":false},"axis":null},"x2":{"field":"e"}}}]},
{"width":986,"height":518,"layer":[
{"data":{"name":"baseD"},"mark":"rect","encoding":{"x":{"field":"x","type":"quantitative","scale":{"domain":[-4.91,124.9],"nice":false,"zero":false},"axis":null},"x2":{"field":"e"},"fill":{"field":"v","type":"quantitative","legend":null,"scale":{"domain":[-100,0,100],"range":["#0000ff","#ffffff","#ff0000"],"interpolate":"rgb"}}}},
{"data":{"name":"panelD"},"mark":"rect","encoding":{"x":{"field":"x","type":"quantitative","scale":{"domain":[-4.91,124.9],"nice":false,"zero":false},"axis":null},"x2":{"field":"e"},"y":{"field":"r","type":"ordinal","axis":null,"scale":{"domain":[0,1,2,3,4,5,6,7,8,9,10,11,12,13,14,15,16,17,18,19,20,21,22,23,24,25,26,27,28,29,30],"paddingInner":0,"paddingOuter":0}},"fill":{"field":"v","type":"quantitative","legend":null,"scale":{"domain":[-100,0,100],"range":["#0000ff","#ffffff","#ff0000"],"interpolate":"rgb"}}}},
{"data":{"name":"colombia"},"mark":{"type":"text","fontSize":16,"angle":325,"align":"left","baseline":"alphabetic","dy":6,"color":"#000"},"encoding":{"x":{"datum":105.7,"type":"quantitative","scale":{"domain":[-4.91,124.9],"nice":false,"zero":false},"axis":null},"y":{"field":"r","type":"ordinal","axis":null,"scale":{"domain":[0,1,2,3,4,5,6,7,8,9,10,11,12,13,14,15,16,17,18,19,20,21,22,23,24,25,26,27,28,29,30],"paddingInner":0,"paddingOuter":0}},"text":{"field":"n"}}},
{"data":{"values":[{"r":0,"t":"d"}]},"mark":{"type":"text","fontSize":26,"fontWeight":"bold","dy":6,"color":"#000"},"encoding":{"x":{"datum":-2.15,"type":"quantitative","scale":{"domain":[-4.91,124.9],"nice":false,"zero":false},"axis":null},"y":{"field":"r","type":"ordinal","axis":null,"scale":{"domain":[0,1,2,3,4,5,6,7,8,9,10,11,12,13,14,15,16,17,18,19,20,21,22,23,24,25,26,27,28,29,30],"paddingInner":0,"paddingOuter":0}},"text":{"field":"t"}}},
{"data":{"name":"frame"},"mark":{"type":"rect","fill":null,"stroke":"#000","strokeWidth":3.5},"encoding":{"x":{"field":"x","type":"quantitative","scale":{"domain":[-4.91,124.9],"nice":false,"zero":false},"axis":null},"x2":{"field":"e"}}}]},
{"width":986,"height":45,"data":{"name":"frame"},"layer":[
{"mark":{"type":"text","fontSize":18,"dy":0.5,"color":"#000"},"encoding":{"x":{"field":"c","type":"quantitative","scale":{"domain":[-4.91,124.9],"nice":false,"zero":false},"axis":null},"text":{"field":"t"}}},
{"mark":{"type":"rect","fill":null,"stroke":"#000","strokeWidth":3.5},"encoding":{"x":{"field":"x","type":"quantitative","scale":{"domain":[-4.91,124.9],"nice":false,"zero":false},"axis":null},"x2":{"field":"e"}}}]}
]}
